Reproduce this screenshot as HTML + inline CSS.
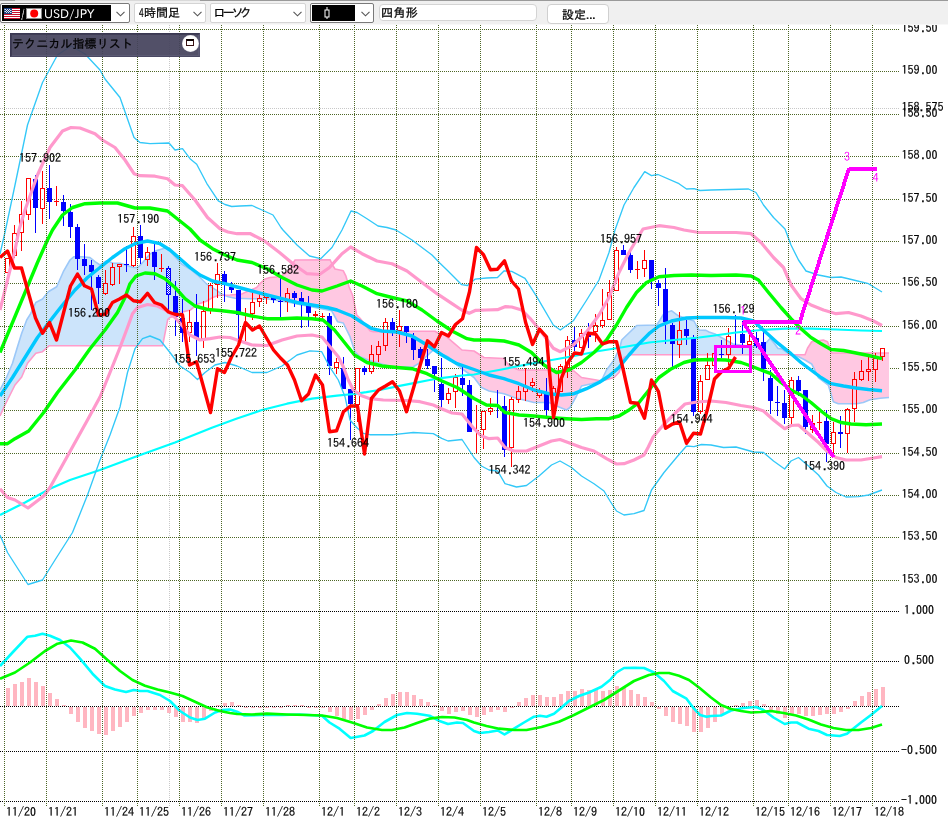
<!DOCTYPE html>
<html lang="ja"><head><meta charset="utf-8"><title>USD/JPY</title>
<style>
html,body{margin:0;padding:0;background:#fff;}
body{width:948px;height:822px;position:relative;overflow:hidden;font-family:"IPAPGothic","IPAGothic","Liberation Sans","Noto Sans CJK JP",sans-serif;font-size:12px;color:#000;}
#chart{position:absolute;left:0;top:0;will-change:transform;}
#tb{position:absolute;left:0;top:0;width:948px;height:24px;background:#f0f0f0;border-bottom:1px solid #f8f8f8;}
#tb .topline{position:absolute;left:0;top:0;height:1px;background:#a0a0a0;}
.cb{position:absolute;top:3px;height:18px;background:#fff;border:1px solid #adadad;border-radius:2px;box-sizing:content-box;}
.cb .tx{position:absolute;left:4px;top:0px;-webkit-text-stroke:0.25px #000;line-height:16px;font-size:12px;white-space:nowrap;letter-spacing:0;will-change:transform;}
.chev{position:absolute;top:7px;width:9px;height:6px;}
#panel{position:absolute;left:10px;top:33px;width:188px;height:22px;background:rgba(69,67,93,0.93);border:1px solid #3a3852;border-right-color:#55536e;border-bottom-color:#4a4863;box-shadow:inset 1px 1px 0 rgba(40,38,62,0.45), inset -1px -1px 0 rgba(110,108,135,0.35);}
#panel .t{position:absolute;left:0.5px;top:0.5px;-webkit-text-stroke:0.25px #000;font-family:"IPAGothic","Liberation Sans","Noto Sans CJK JP",sans-serif;font-size:12px;line-height:16px;color:#000;letter-spacing:0.1px;white-space:nowrap;will-change:transform;}
#panel .btn{position:absolute;left:170.5px;top:0.5px;width:17px;height:17px;border-radius:50%;background:radial-gradient(circle,#fff 0,#fff 60%,rgba(250,248,255,0.75) 78%,rgba(240,238,255,0.25) 92%,rgba(255,255,255,0) 100%);}
#panel .btn i{position:absolute;left:4.5px;top:4.5px;width:6px;height:4px;border:1px solid #3a1212;border-top:2px solid #0a0000;display:block;background:#fff;}
</style></head><body>
<svg id="chart" width="948" height="822" viewBox="0 0 948 822">
<g stroke="#4d6626" stroke-width="1" stroke-dasharray="1 1" shape-rendering="crispEdges">
<line x1="0" y1="29.5" x2="899" y2="29.5"/>
<line x1="0" y1="71.5" x2="899" y2="71.5"/>
<line x1="0" y1="114.5" x2="899" y2="114.5"/>
<line x1="0" y1="156.5" x2="899" y2="156.5"/>
<line x1="0" y1="199.5" x2="899" y2="199.5"/>
<line x1="0" y1="241.5" x2="899" y2="241.5"/>
<line x1="0" y1="283.5" x2="899" y2="283.5"/>
<line x1="0" y1="326.5" x2="899" y2="326.5"/>
<line x1="0" y1="368.5" x2="899" y2="368.5"/>
<line x1="0" y1="410.5" x2="899" y2="410.5"/>
<line x1="0" y1="453.5" x2="899" y2="453.5"/>
<line x1="0" y1="495.5" x2="899" y2="495.5"/>
<line x1="0" y1="537.5" x2="899" y2="537.5"/>
<line x1="0" y1="580.5" x2="899" y2="580.5"/>
</g>
<line x1="0" y1="108.5" x2="899" y2="108.5" stroke="#c8c8c8" stroke-width="1" stroke-dasharray="1 1" shape-rendering="crispEdges"/>
<line x1="169.5" y1="25" x2="169.5" y2="806" stroke="#c8c8c8" stroke-width="1" stroke-dasharray="1 1" shape-rendering="crispEdges"/>
<g stroke="#000" stroke-width="1" stroke-dasharray="1 1" shape-rendering="crispEdges">
<line x1="0" y1="611.5" x2="899" y2="611.5"/>
<line x1="0" y1="661.5" x2="899" y2="661.5"/>
<line x1="0" y1="706.5" x2="899" y2="706.5"/>
<line x1="0" y1="751.5" x2="899" y2="751.5"/>
<line x1="0" y1="801.5" x2="899" y2="801.5"/>
</g>
<polygon points="0,390 0.5,389.03 1,388.06 1.5,387.09 2,386.119 2.5,385.149 3,384.179 3.5,383.209 4,382.239 4.5,381.269 5,380.299 5.5,379.328 6,378.358 6.5,377.388 7,376.291 7.5,375.11 8,373.929 8.5,372.748 9,371.567 9.5,370.386 10,369.205 10.5,368.024 11,366.843 11.5,365.662 12,364.481 12.5,363.3 13,361.64 13.5,359.98 14,358.32 14.5,356.66 15,355 15.5,353.34 16,351.68 16.5,350.02 17,348.36 17.5,346.7 18,345.105 18.5,343.51 19,341.914 19.5,340.319 20,338.724 20.5,337.129 21,335.533 21.5,333.938 22,332.502 22.5,331.172 23,329.842 23.5,328.512 24,327.182 24.5,325.852 25,324.522 25.5,323.192 26,321.862 26.5,320.532 27,319.51 27.5,318.693 28,317.876 28.5,317.059 29,316.241 29.5,315.424 30,314.607 30.5,313.79 31,312.868 31.5,311.788 32,310.708 32.5,309.628 33,308.548 33.5,307.468 34,306.388 34.5,305.308 35,304.228 35.5,303.148 36,302.396 36.5,302.134 37,301.873 37.5,301.612 38,301.351 38.5,301.09 39,300.828 39.5,300.567 40,300.306 40.5,300.045 41,299.784 41.5,299.522 42,299.261 42.5,299 43,298.371 43.5,297.741 44,297.112 44.5,296.483 45,295.853 45.5,295.224 46,294.595 46.5,293.966 47,293.336 47.5,292.707 48,292.078 48.5,291.581 49,291.283 49.5,290.986 50,290.688 50.5,290.39 51,290.093 51.5,289.795 52,289.498 52.5,289.2 53,288.902 53.5,288.605 54,288.307 54.5,288.01 55,287.712 55.5,287.414 56,287.117 56.5,286.819 57,286.018 57.5,284.882 58,283.745 58.5,282.609 59,281.473 59.5,280.336 60,279.2 60.5,278.064 61,276.927 61.5,275.791 62,274.655 62.5,273.518 63,272.382 63.5,271.351 64,270.478 64.5,269.604 65,268.731 65.5,267.858 66,266.985 66.5,266.112 67,265.239 67.5,264.366 68,263.493 68.5,262.619 69,261.746 69.5,260.873 70,260 70.5,259.587 71,259.175 71.5,258.762 72,258.35 72.5,257.938 73,257.525 73.5,257.113 74,256.7 74.5,256.7 75,256.7 75.5,256.7 76,256.7 76.5,256.7 77,256.7 77.5,256.7 78,256.7 78.5,256.7 79,256.7 79.5,256.7 80,256.7 80.5,256.7 81,256.7 81.5,256.7 82,256.729 82.5,256.777 83,256.825 83.5,256.873 84,256.922 84.5,256.97 85,257.018 85.5,257.066 86,257.114 86.5,257.163 87,257.211 87.5,257.259 88,257.307 88.5,257.355 89,257.404 89.5,257.452 90,257.5 90.5,257.92 91,258.34 91.5,258.76 92,259.18 92.5,259.6 93,260.02 93.5,260.44 94,260.86 94.5,261.28 95,261.7 95.5,262.03 96,262.36 96.5,262.69 97,263.02 97.5,263.35 98,263.68 98.5,264.01 99,264.34 99.5,264.67 100,265 100.5,264.687 101,264.373 101.5,264.06 102,263.746 102.5,263.433 103,263.119 103.5,262.806 104,262.493 104.5,262.179 105,261.866 105.5,261.552 106,261.239 106.5,260.925 107,260.914 107.5,261.103 108,261.292 108.5,261.482 109,261.671 109.5,261.861 110,262.05 110.5,262.239 111,262.429 111.5,262.618 112,262.808 112.5,262.997 113,263.186 113.5,263.3 114,263.3 114.5,263.3 115,263.3 115.5,263.3 116,263.3 116.5,263.3 117,263.3 117.5,263.3 118,263.3 118.5,263.3 119,263.3 119.5,263.3 120,263.3 120.5,263.458 121,263.616 121.5,263.774 122,263.932 122.5,264.089 123,264.247 123.5,264.405 124,264.563 124.5,264.721 125,264.879 125.5,265.037 126,265.195 126.5,265.353 127,265.511 127.5,265.668 128,265.826 128.5,265.984 129,266.142 129.5,266.3 130,266.458 130.5,266.616 131,266.774 131.5,266.932 132,267.089 132.5,267.247 133,267.405 133.5,267.5 134,267.5 134.5,267.5 135,267.5 135.5,267.5 136,267.5 136.5,267.5 137,267.5 137.5,267.5 138,267.5 138.5,266.953 139,266.406 139.5,265.858 140,265.311 140.5,264.764 141,264.217 141.5,263.67 142,263.123 142.5,262.575 143,262.028 143.5,261.47 144,260.896 144.5,260.321 145,259.746 145.5,259.172 146,258.597 146.5,258.022 147,257.448 147.5,256.873 148,256.299 148.5,255.724 149,255.149 149.5,254.575 150,254 150.5,253.743 151,253.485 151.5,253.228 152,252.971 152.5,252.713 153,252.456 153.5,252.199 154,251.941 154.5,251.684 155,251.426 155.5,251.169 156,250.912 156.5,250.654 157,250.443 157.5,250.299 158,250.155 158.5,250.011 159,249.868 159.5,249.724 160,249.58 160.5,249.437 161,249.293 161.5,249.149 162,249.006 162.5,248.862 163,248.718 163.5,248.575 164,248.431 164.5,248.287 165,248.144 165.5,248 166,248.333 166.5,248.667 167,249 167.5,249.333 168,249.667 168.5,250 169,250.333 169.5,250.667 170,251 170.5,251.57 171,252.14 171.5,252.711 172,253.281 172.5,253.851 173,254.421 173.5,254.991 174,255.561 174.5,256.132 175,256.702 175.5,257.272 176,257.831 176.5,258.381 177,258.932 177.5,259.483 178,260.034 178.5,260.585 179,261.136 179.5,261.686 180,262.237 180.5,262.788 181,263.339 181.5,263.89 182,264.239 182.5,264.538 183,264.837 183.5,265.136 184,265.434 184.5,265.733 185,266.032 185.5,266.331 186,266.63 186.5,266.929 187,267.228 187.5,267.526 188,267.825 188.5,268.124 189,268.423 189.5,268.722 190,269.021 190.5,269.359 191,269.756 191.5,270.153 192,270.551 192.5,270.948 193,271.345 193.5,271.742 194,272.14 194.5,272.537 195,272.934 195.5,273.332 196,273.729 196.5,274.126 197,274.523 197.5,274.921 198,275.4 198.5,275.9 199,276.4 199.5,276.9 200,277.4 200.5,277.9 201,278.4 201.5,278.9 202,279.4 202.5,279.9 203,280.4 203.5,280.9 204,281.4 204.5,281.9 205,282.4 205.5,282.9 206,283.4 206.5,283.865 207,284.188 207.5,284.512 208,284.835 208.5,285.159 209,285.482 209.5,285.806 210,286.129 210.5,286.453 211,286.776 211.5,287.1 212,287.424 212.5,287.747 213,288.071 213.5,288.394 214,288.718 214.5,289.041 215,289.365 215.5,289.688 216,290.012 216.5,290.335 217,290.682 217.5,291.035 218,291.388 218.5,291.741 219,292.094 219.5,292.447 220,292.8 220.5,293.153 221,293.506 221.5,293.859 222,294.123 222.5,294.327 223,294.532 223.5,294.736 224,294.941 224.5,295.145 225,295.35 225,295.208 224.5,295.229 224,295.25 223.5,295.271 223,295.292 222.5,295.312 222,295.333 221.5,295.354 221,295.375 220.5,295.396 220,295.417 219.5,295.438 219,295.458 218.5,295.479 218,295.5 217.5,295.69 217,295.879 216.5,296.069 216,296.259 215.5,296.448 215,296.638 214.5,296.828 214,297.017 213.5,297.207 213,297.397 212.5,297.586 212,297.824 211.5,298.134 211,298.445 210.5,298.755 210,299.066 209.5,299.376 209,299.686 208.5,299.997 208,300.307 207.5,300.617 207,300.928 206.5,301.238 206,301.432 205.5,301.597 205,301.761 204.5,301.926 204,302.091 203.5,302.256 203,302.42 202.5,302.585 202,302.75 201.5,302.915 201,303.08 200.5,303.244 200,303.409 199.5,303.574 199,303.739 198.5,303.903 198,304.068 197.5,304.279 197,304.677 196.5,305.074 196,305.471 195.5,305.868 195,306.266 194.5,306.663 194,307.06 193.5,307.458 193,307.855 192.5,308.252 192,308.649 191.5,309.047 191,309.444 190.5,309.841 190,310.079 189.5,310.211 189,310.344 188.5,310.476 188,310.608 187.5,310.74 187,310.872 186.5,311.005 186,311.137 185.5,311.269 185,311.401 184.5,311.533 184,311.666 183.5,311.798 183,311.93 182.5,312.062 182,312.194 181.5,312.356 181,312.636 180.5,312.917 180,313.197 179.5,313.477 179,313.758 178.5,314.038 178,314.318 177.5,314.598 177,314.879 176.5,315.159 176,315.439 175.5,315.72 175,316 174.5,316.14 174,316.28 173.5,316.42 173,316.56 172.5,316.7 172,316.84 171.5,316.98 171,317.12 170.5,317.26 170,317.4 169.5,317.878 169,318.357 168.5,318.835 168,319.313 167.5,320.627 167,323.196 166.5,325.765 166,328.333 165.5,330.902 165,333.471 164.5,336.039 164,338.608 163.5,341.176 163,343.745 162.5,345.8 162,345.8 161.5,345.8 161,345.8 160.5,345.8 160,345.8 159.5,345.8 159,345.8 158.5,345.8 158,345.8 157.5,345.8 157,345.8 156.5,345.8 156,345.8 155.5,345.8 155,345.8 154.5,345.8 154,345.8 153.5,345.8 153,345.8 152.5,345.8 152,345.8 151.5,345.8 151,345.8 150.5,345.8 150,345.8 149.5,345.8 149,345.8 148.5,345.8 148,345.8 147.5,345.8 147,345.8 146.5,345.8 146,345.8 145.5,345.8 145,345.8 144.5,345.8 144,345.8 143.5,345.8 143,345.8 142.5,345.8 142,345.8 141.5,345.8 141,345.8 140.5,345.8 140,345.8 139.5,345.8 139,345.8 138.5,345.8 138,345.8 137.5,345.8 137,345.8 136.5,345.8 136,345.8 135.5,345.8 135,345.8 134.5,345.8 134,345.8 133.5,345.8 133,345.8 132.5,345.8 132,345.8 131.5,345.8 131,345.8 130.5,345.8 130,345.8 129.5,345.8 129,345.8 128.5,345.8 128,345.8 127.5,345.8 127,345.8 126.5,345.8 126,345.8 125.5,345.8 125,345.8 124.5,345.8 124,345.8 123.5,345.8 123,345.8 122.5,345.8 122,345.8 121.5,345.8 121,345.8 120.5,345.8 120,345.8 119.5,345.8 119,345.8 118.5,345.8 118,345.8 117.5,345.8 117,345.8 116.5,345.8 116,345.8 115.5,345.8 115,345.8 114.5,345.8 114,345.8 113.5,345.8 113,345.8 112.5,345.8 112,345.8 111.5,345.8 111,345.8 110.5,345.8 110,345.8 109.5,345.8 109,345.8 108.5,345.8 108,345.8 107.5,345.8 107,345.8 106.5,345.8 106,345.8 105.5,345.8 105,345.8 104.5,345.8 104,345.8 103.5,345.8 103,345.8 102.5,345.8 102,345.8 101.5,345.8 101,345.8 100.5,345.8 100,345.8 99.5,345.8 99,345.8 98.5,345.8 98,345.8 97.5,345.8 97,345.8 96.5,345.8 96,345.8 95.5,345.8 95,345.8 94.5,345.8 94,345.8 93.5,345.8 93,345.8 92.5,345.8 92,345.8 91.5,345.8 91,345.8 90.5,345.8 90,345.8 89.5,345.8 89,345.8 88.5,345.8 88,345.8 87.5,345.8 87,345.8 86.5,345.8 86,345.8 85.5,345.8 85,345.8 84.5,345.8 84,345.8 83.5,345.8 83,345.8 82.5,345.8 82,345.8 81.5,345.8 81,345.8 80.5,345.8 80,345.8 79.5,345.8 79,345.8 78.5,345.8 78,345.8 77.5,345.8 77,345.8 76.5,345.8 76,345.8 75.5,345.8 75,345.8 74.5,345.8 74,345.8 73.5,345.8 73,345.8 72.5,345.8 72,345.8 71.5,345.8 71,345.8 70.5,345.8 70,345.8 69.5,345.8 69,345.8 68.5,345.8 68,345.8 67.5,345.8 67,345.8 66.5,345.8 66,345.8 65.5,345.8 65,345.8 64.5,345.8 64,345.8 63.5,345.8 63,345.8 62.5,345.8 62,345.8 61.5,345.8 61,345.8 60.5,345.8 60,345.8 59.5,345.8 59,345.8 58.5,345.8 58,345.8 57.5,345.8 57,345.8 56.5,345.8 56,345.8 55.5,345.8 55,345.8 54.5,345.8 54,345.8 53.5,345.8 53,345.8 52.5,345.8 52,345.8 51.5,345.8 51,345.8 50.5,345.8 50,345.8 49.5,345.8 49,345.8 48.5,346.254 48,346.708 47.5,347.162 47,347.615 46.5,348.069 46,348.523 45.5,348.977 45,349.431 44.5,349.885 44,350.338 43.5,350.792 43,351.246 42.5,351.7 42,351.819 41.5,351.939 41,352.058 40.5,352.178 40,352.297 39.5,352.416 39,352.536 38.5,352.655 38,352.775 37.5,352.894 37,353.013 36.5,353.133 36,353.252 35.5,353.661 35,354.264 34.5,354.866 34,355.469 33.5,356.071 33,356.673 32.5,357.276 32,357.878 31.5,358.481 31,359.083 30.5,359.686 30,360.288 29.5,360.89 29,361.493 28.5,362.095 28,362.698 27.5,363.3 27,364.481 26.5,365.662 26,366.843 25.5,368.024 25,369.205 24.5,370.386 24,371.567 23.5,372.748 23,373.929 22.5,375.11 22,376.291 21.5,377.239 21,377.836 20.5,378.433 20,379.03 19.5,379.627 19,380.224 18.5,380.821 18,381.418 17.5,382.015 17,382.612 16.5,383.209 16,383.806 15.5,384.403 15,385 14.5,386 14,387 13.5,388 13,389 12.5,390 12,391 11.5,392 11,393 10.5,394 10,395 9.5,396 9,397 8.5,398 8,399 7.5,400 7,401 6.5,402 6,403 5.5,404 5,405 4.5,406.1 4,407.2 3.5,408.3 3,409.4 2.5,410.5 2,411.6 1.5,412.7 1,413.8 0.5,414.9 0,416" fill="#cce4fb" stroke="none"/>
<polygon points="225,295.35 225.5,295.555 226,295.759 226.5,295.964 227,296.168 227.5,296.373 228,296.577 228.5,296.748 229,296.867 229.5,296.987 230,297.106 230.5,297.225 231,297.345 231.5,297.464 232,297.584 232.5,297.703 233,297.822 233.5,297.942 234,298.061 234.5,298.181 235,298.3 235.5,298.313 236,298.327 236.5,298.34 237,298.353 237.5,298.367 238,298.38 238.5,298.393 239,298.407 239.5,298.42 240,298.433 240.5,298.447 241,298.46 241.5,298.473 242,298.487 242.5,298.5 243,298.513 243.5,298.527 244,298.54 244.5,298.553 245,298.567 245.5,298.58 246,298.593 246.5,298.607 247,298.62 247.5,298.633 248,298.647 248.5,298.66 249,298.673 249.5,298.687 250,298.7 250.5,298.7 251,298.7 251.5,298.7 252,298.7 252.5,298.7 253,298.7 253.5,298.7 254,298.7 254.5,298.7 255,298.7 255.5,298.7 256,298.7 256.5,298.7 257,298.7 257.5,298.7 258,298.7 258.5,298.7 259,298.7 259.5,298.7 260,298.7 260.5,298.7 261,298.7 261.5,298.7 262,298.7 262.5,298.7 263,298.7 263.5,298.7 264,298.7 264.5,298.7 265,298.7 265.5,298.7 266,298.7 266.5,298.7 267,298.749 267.5,298.83 268,298.912 268.5,298.994 269,299.075 269.5,299.157 270,299.238 270.5,299.32 271,299.401 271.5,299.483 272,299.564 272.5,299.646 273,299.727 273.5,299.809 274,299.891 274.5,299.972 275,300.054 275.5,300.135 276,300.217 276.5,300.298 277,300.38 277.5,300.461 278,300.543 278.5,300.624 279,300.706 279.5,300.788 280,300.869 280.5,300.951 281,301.032 281.5,301.114 282,301.195 282.5,301.277 283,301.358 283.5,301.44 284,301.521 284.5,301.603 285,301.685 285.5,301.766 286,301.848 286.5,301.929 287,302.011 287.5,302.092 288,302.174 288.5,302.255 289,302.337 289.5,302.418 290,302.5 290.5,302.604 291,302.708 291.5,302.812 292,302.917 292.5,303.021 293,303.125 293.5,303.229 294,303.333 294.5,303.438 295,303.542 295.5,303.646 296,303.75 296.5,303.854 297,303.958 297.5,304.062 298,304.167 298.5,304.271 299,304.375 299.5,304.479 300,304.583 300.5,304.688 301,304.792 301.5,304.896 302,305 302.5,305.098 303,305.195 303.5,305.293 304,305.391 304.5,305.488 305,305.586 305.5,305.684 306,305.781 306.5,305.879 307,305.976 307.5,306.074 308,306.172 308.5,306.269 309,306.367 309.5,306.465 310,306.562 310.5,306.66 311,306.758 311.5,306.855 312,306.953 312.5,307.051 313,307.148 313.5,307.246 314,307.343 314.5,307.441 315,307.539 315.5,307.636 316,307.734 316.5,307.832 317,307.929 317.5,308.027 318,308.125 318.5,308.222 319,308.32 319.5,308.418 320,308.515 320.5,308.613 321,308.71 321.5,308.808 322,308.906 322.5,309.003 323,309.101 323.5,309.199 324,309.296 324.5,309.394 325,309.492 325.5,309.589 326,309.687 326.5,309.785 327,309.882 327.5,309.98 328,310.077 328.5,310.175 329,310.273 329.5,310.37 330,310.468 330.5,310.566 331,310.663 331.5,310.761 332,311.348 332.5,312.261 333,313.174 333.5,314.087 334,315 334.5,315.957 335,316.914 335.5,317.871 336,318.829 336.5,319.786 337,320.743 337.5,321.7 338,321.812 338.5,321.924 339,322.036 339.5,322.148 340,322.26 340.5,322.372 341,322.484 341.5,322.597 342,322.709 342.5,322.821 343,322.933 343.5,323.412 344,324.441 344.5,325.471 345,326.5 345.5,327.529 346,328.559 346.5,329.588 347,330.609 347.5,331.624 348,332.639 348.5,333.655 349,334.67 349.5,335.685 350,336.7 350.5,338.215 351,339.73 351.5,341.245 352,342.761 352.5,344.276 353,345.791 353.5,347.288 354,348.759 354.5,350.229 355,351.7 355.5,352.2 356,352.7 356.5,353.2 357,353.7 357.5,354.2 358,354.7 358.5,355.2 359,355.7 359.5,356.2 360,356.7 360.5,356.899 361,357.098 361.5,357.296 362,357.495 362.5,357.694 363,357.893 363.5,358.092 364,358.29 364.5,358.489 365,358.688 365.5,358.887 366,359.086 366.5,359.284 367,359.483 367.5,359.682 368,359.881 368.5,360.06 369,360.21 369.5,360.36 370,360.51 370.5,360.66 371,360.81 371.5,360.96 372,361.11 372.5,361.26 373,361.41 373.5,361.56 374,361.71 374.5,361.86 375,362.01 375.5,362.16 376,362.31 376.5,362.46 377,362.61 377.5,362.76 378,362.91 378.5,363.06 379,363.21 379.5,363.36 380,363.51 380.5,363.66 381,363.81 381.5,363.96 382,364.11 382.5,364.26 383,364.41 383.5,364.56 384,364.71 384.5,364.86 385,365.01 385.5,365.16 386,365.31 386.5,365.46 387,365.61 387.5,365.76 388,365.91 388.5,366.06 389,366.21 389.5,366.36 390,366.51 390.5,366.66 391,366.81 391.5,366.96 392,367.11 392.5,367.26 393,367.41 393.5,367.492 394,367.472 394.5,367.452 395,367.432 395.5,367.412 396,367.392 396.5,367.372 397,367.352 397.5,367.332 398,367.312 398.5,367.292 399,367.272 399.5,367.252 400,367.232 400.5,367.212 401,367.192 401.5,367.172 402,367.152 402.5,367.132 403,367.112 403.5,367.092 404,367.072 404.5,367.052 405,367.032 405.5,367.012 406,366.992 406.5,366.972 407,366.952 407.5,366.932 408,366.912 408.5,366.892 409,366.872 409.5,366.852 410,366.832 410.5,366.812 411,366.792 411.5,366.772 412,366.752 412.5,366.732 413,366.712 413.5,366.581 414,366.282 414.5,365.984 415,365.686 415.5,365.388 416,365.089 416.5,364.791 417,364.493 417.5,364.195 418,363.896 418.5,363.598 419,363.3 419.5,362.839 420,362.378 420.5,361.917 421,361.456 421.5,360.994 422,360.533 422.5,360.072 423,359.611 423.5,359.15 424,358.689 424.5,358.228 425,357.767 425.5,357.306 426,356.844 426.5,356.383 427,355.922 427.5,355.461 428,355 428.5,354.521 429,354.043 429.5,353.564 430,353.086 430.5,352.607 431,352.129 431.5,351.65 432,351.171 432.5,350.693 433,350.214 433.5,349.736 434,349.257 434.5,348.779 435,348.3 435.5,348.8 436,349.3 436.5,349.8 437,350.3 437.5,350.8 438,351.3 438.5,351.8 439,352.3 439.5,352.8 440,353.3 440.5,353.512 441,353.725 441.5,353.938 442,354.15 442.5,354.363 443,354.575 443.5,354.788 444,355 444.5,355.212 445,355.425 445.5,355.637 446,355.85 446.5,356.062 447,356.275 447.5,356.488 448,356.7 448.5,357.161 449,357.622 449.5,358.083 450,358.544 450.5,359.006 451,359.467 451.5,359.928 452,360.389 452.5,360.85 453,361.311 453.5,361.772 454,362.233 454.5,362.694 455,363.156 455.5,363.617 456,364.078 456.5,364.539 457,365 457.5,365.368 458,365.735 458.5,366.103 459,366.471 459.5,366.838 460,367.206 460.5,367.574 461,367.941 461.5,368.309 462,368.676 462.5,369.044 463,369.412 463.5,369.779 464,370.147 464.5,370.515 465,370.882 465.5,371.25 466,371.618 466.5,371.985 467,372.353 467.5,372.721 468,373.088 468.5,373.456 469,373.824 469.5,374.191 470,374.559 470.5,374.926 471,375.294 471.5,375.662 472,376.029 472.5,376.397 473,376.765 473.5,377.132 474,377.5 474.5,378.167 475,378.833 475.5,379.5 476,380.167 476.5,380.833 477,381.5 477.5,382.167 478,382.833 478.5,383.5 479,384.167 479.5,384.833 480,385.5 480.5,386.167 481,386.833 481.5,387.5 482,387.733 482.5,387.967 483,388.2 483.5,388.433 484,388.667 484.5,388.9 485,389.133 485.5,389.367 486,389.6 486.5,389.833 487,390.067 487.5,390.3 488,390.533 488.5,390.767 489,391 489.5,391.09 490,391.18 490.5,391.27 491,391.36 491.5,391.45 492,391.54 492.5,391.63 493,391.72 493.5,391.81 494,391.9 494.5,391.99 495,392.08 495.5,392.17 496,392.26 496.5,392.35 497,392.44 497.5,392.53 498,392.62 498.5,392.71 499,392.8 499.5,392.89 500,392.98 500.5,393.07 501,393.16 501.5,393.25 502,393.34 502.5,393.43 503,393.52 503.5,393.61 504,393.7 504.5,393.89 505,394.08 505.5,394.27 506,394.46 506.5,394.65 507,394.84 507.5,395.03 508,395.22 508.5,395.41 509,395.6 509.5,395.79 510,395.98 510.5,396.17 511,396.36 511.5,396.55 512,396.74 512.5,396.93 513,397.12 513.5,397.31 514,397.5 514.5,397.625 515,397.75 515.5,397.875 516,398 516.5,398.125 517,398.25 517.5,398.375 518,398.5 518.5,398.625 519,398.75 519.5,398.875 520,399 520.5,399.125 521,399.25 521.5,399.375 522,399.5 522.5,399.625 523,399.75 523.5,399.875 524,400 524.5,400.125 525,400.25 525.5,400.375 526,400.5 526.5,400.625 527,400.75 527.5,400.875 528,401 528.5,401.125 529,401.25 529.5,401.375 530,401.5 530.5,401.625 531,401.75 531.5,401.875 532,402 532.5,402.125 533,402.25 533.5,402.375 534,402.5 534.5,402.5 535,402.5 535.5,402.5 536,402.5 536.5,402.5 537,402.5 537.5,402.5 538,402.5 538.5,402.5 539,402.5 539.5,402.5 540,402.5 540.5,402.5 541,402.5 541.5,402.5 542,402.5 542.5,402.5 543,402.5 543.5,402.5 544,402.5 544.5,402.5 545,402.5 545.5,402.5 546,402.5 546.5,402.5 547,402.5 547.5,402.5 548,402.5 548.5,402.5 549,402.5 549.5,402.733 550,402.967 550.5,403.2 551,403.433 551.5,403.667 552,403.9 552.5,404.133 553,404.367 553.5,404.6 554,404.833 554.5,405.067 555,405.3 555.5,405.533 556,405.767 556.5,406 557,406.2 557.5,406.4 558,406.6 558.5,406.8 559,407 559.5,407.2 560,407.4 560.5,407.6 561,407.8 561.5,408 562,408.2 562.5,408.4 563,408.6 563.5,408.8 564,409 564.5,409.2 565,409.4 565.5,409.6 566,409.8 566.5,410 567,409.643 567.5,409.286 568,408.929 568.5,408.571 569,408.214 569.5,407.857 570,407.5 570.5,406.615 571,405.731 571.5,404.846 572,403.962 572.5,403.077 573,402.192 573.5,401.308 574,400.423 574.5,399.538 575,398.654 575.5,397.769 576,396.885 576.5,396 577,395 577.5,394 578,393 578.5,392 579,391 579.5,390 580,389 580.5,388 581,387 581.5,386 582,385.885 582.5,385.77 583,385.655 583.5,385.54 584,385.425 584.5,385.31 585,385.195 585.5,385.08 586,384.965 586.5,384.85 587,384.735 587.5,384.62 588,384.505 588.5,384.39 589,384.275 589.5,384.16 590,384.045 590.5,383.93 591,383.815 591.5,383.7 592,383.54 592.5,383.38 593,383.22 593.5,383.06 594,382.9 594.5,382.74 595,382.58 595.5,382.42 596,382.26 596.5,382.1 597,381.94 597.5,381.78 598,381.62 598.5,381.46 599,381.3 599.5,381.14 600,380.98 600.5,380.82 601,380.66 601,380.9 600.5,380.8 600,380.7 599.5,380.6 599,380.5 598.5,380.4 598,380.3 597.5,380.2 597,380.1 596.5,380 596,379.917 595.5,379.833 595,379.75 594.5,379.667 594,379.583 593.5,379.5 593,379.417 592.5,379.333 592,379.25 591.5,379.167 591,379.083 590.5,379 590,378.917 589.5,378.833 589,378.75 588.5,378.667 588,378.583 587.5,378.5 587,378.417 586.5,378.333 586,378.25 585.5,378.167 585,378.083 584.5,378 584,377.917 583.5,377.833 583,377.75 582.5,377.667 582,377.583 581.5,377.5 581,377.067 580.5,376.633 580,376.2 579.5,375.767 579,375.333 578.5,374.9 578,374.467 577.5,374.033 577,373.6 576.5,373.167 576,372.733 575.5,372.3 575,371.867 574.5,371.433 574,371 573.5,370.98 573,370.96 572.5,370.94 572,370.92 571.5,370.9 571,370.88 570.5,370.86 570,370.84 569.5,370.82 569,370.8 568.5,370.78 568,370.76 567.5,370.74 567,370.72 566.5,370.7 566,370.68 565.5,370.66 565,370.64 564.5,370.62 564,370.6 563.5,370.58 563,370.56 562.5,370.54 562,370.52 561.5,370.5 561,370.48 560.5,370.46 560,370.44 559.5,370.42 559,370.4 558.5,370.38 558,370.36 557.5,370.34 557,370.32 556.5,370.3 556,370.28 555.5,370.26 555,370.24 554.5,370.22 554,370.2 553.5,370.18 553,370.16 552.5,370.14 552,370.12 551.5,370.1 551,370.08 550.5,370.06 550,370.04 549.5,370.02 549,370 548.5,370 548,370 547.5,370 547,370 546.5,370 546,370 545.5,370 545,370 544.5,370 544,370 543.5,370 543,370 542.5,370 542,370 541.5,370 541,370 540.5,370 540,370 539.5,370 539,370 538.5,370 538,370 537.5,370 537,370 536.5,370 536,370 535.5,370 535,370 534.5,370 534,370 533.5,370 533,370 532.5,370 532,370 531.5,370 531,370 530.5,370 530,370 529.5,370 529,370 528.5,370 528,370 527.5,370 527,370 526.5,370 526,370 525.5,370 525,370 524.5,370 524,370 523.5,370 523,370 522.5,370 522,370 521.5,370 521,370 520.5,370 520,370 519.5,370 519,370 518.5,369.8 518,369.6 517.5,369.4 517,369.2 516.5,369 516,368.8 515.5,368.6 515,368.4 514.5,368.2 514,368 513.5,367.8 513,367.6 512.5,367.4 512,367.2 511.5,367 511,366.8 510.5,366.6 510,366.4 509.5,366.2 509,366 508.5,365.25 508,364.5 507.5,363.75 507,363 506.5,362.25 506,361.5 505.5,360.75 505,360 504.5,359.25 504,358.5 503.5,358.475 503,358.45 502.5,358.425 502,358.4 501.5,358.375 501,358.35 500.5,358.325 500,358.3 499.5,358.275 499,358.25 498.5,358.225 498,358.2 497.5,358.175 497,358.15 496.5,358.125 496,358.1 495.5,358.075 495,358.05 494.5,358.025 494,358 493.5,357.975 493,357.95 492.5,357.925 492,357.9 491.5,357.875 491,357.85 490.5,357.825 490,357.8 489.5,357.775 489,357.75 488.5,357.725 488,357.7 487.5,357.675 487,357.65 486.5,357.625 486,357.6 485.5,357.575 485,357.55 484.5,357.525 484,357.5 483.5,357.175 483,356.85 482.5,356.525 482,356.2 481.5,355.875 481,355.55 480.5,355.225 480,354.9 479.5,354.575 479,354.25 478.5,353.925 478,353.6 477.5,353.275 477,352.95 476.5,352.625 476,352.3 475.5,351.975 475,351.65 474.5,351.325 474,351 473.5,350.958 473,350.917 472.5,350.875 472,350.833 471.5,350.792 471,350.75 470.5,350.708 470,350.667 469.5,350.625 469,350.583 468.5,350.542 468,350.5 467.5,350.458 467,350.417 466.5,350.375 466,350.333 465.5,350.292 465,350.25 464.5,350.208 464,350.167 463.5,350.125 463,350.083 462.5,350.042 462,350 461.5,349.58 461,349.16 460.5,348.74 460,348.32 459.5,347.9 459,347.48 458.5,347.06 458,346.64 457.5,346.22 457,345.8 456.5,345.38 456,344.96 455.5,344.54 455,344.12 454.5,343.7 454,343.265 453.5,342.83 453,342.395 452.5,341.96 452,341.525 451.5,341.09 451,340.655 450.5,340.22 450,339.785 449.5,339.35 449,338.915 448.5,338.48 448,338.045 447.5,337.61 447,337.175 446.5,336.74 446,336.305 445.5,335.87 445,335.435 444.5,335 444,334.863 443.5,334.726 443,334.589 442.5,334.452 442,334.315 441.5,334.177 441,334.04 440.5,333.903 440,333.766 439.5,333.629 439,333.492 438.5,333.355 438,333.118 437.5,332.815 437,332.512 436.5,332.209 436,331.906 435.5,331.603 435,331.3 434.5,331.3 434,331.3 433.5,331.3 433,331.3 432.5,331.3 432,331.3 431.5,331.3 431,331.3 430.5,331.3 430,331.3 429.5,331.3 429,331.3 428.5,331.3 428,331.3 427.5,331.3 427,331.3 426.5,331.3 426,331.3 425.5,331.3 425,331.3 424.5,331.3 424,331.3 423.5,331.3 423,331.3 422.5,331.3 422,331.3 421.5,331.3 421,331.3 420.5,331.3 420,331.3 419.5,331.3 419,331.3 418.5,331.3 418,331.3 417.5,331.3 417,331.3 416.5,331.3 416,331.3 415.5,331.3 415,331.3 414.5,331.3 414,331.3 413.5,331.3 413,331.3 412.5,331.3 412,331.3 411.5,331.3 411,331.3 410.5,331.3 410,331.3 409.5,331.305 409,331.311 408.5,331.316 408,331.322 407.5,331.327 407,331.333 406.5,331.338 406,331.344 405.5,331.349 405,331.354 404.5,331.36 404,331.365 403.5,331.371 403,331.376 402.5,331.382 402,331.387 401.5,331.393 401,331.398 400.5,331.404 400,331.409 399.5,331.414 399,331.42 398.5,331.425 398,331.431 397.5,331.436 397,331.442 396.5,331.447 396,331.453 395.5,331.458 395,331.463 394.5,331.469 394,331.474 393.5,331.48 393,331.485 392.5,331.491 392,331.496 391.5,331.502 391,331.507 390.5,331.513 390,331.518 389.5,331.523 389,331.529 388.5,331.534 388,331.54 387.5,331.545 387,331.551 386.5,331.556 386,331.562 385.5,331.567 385,331.572 384.5,331.578 384,331.583 383.5,331.589 383,331.594 382.5,331.6 382,331.605 381.5,331.611 381,331.616 380.5,331.622 380,331.627 379.5,331.632 379,331.638 378.5,331.643 378,331.649 377.5,331.654 377,331.66 376.5,331.665 376,331.671 375.5,331.676 375,331.681 374.5,331.687 374,331.692 373.5,331.698 373,331.618 372.5,331.482 372,331.345 371.5,331.209 371,331.073 370.5,330.936 370,330.8 369.5,330.175 369,329.55 368.5,328.925 368,328.3 367.5,327.675 367,327.05 366.5,326.425 366,325.8 365.5,325.175 365,324.55 364.5,323.925 364,323.3 363.5,322.675 363,322.05 362.5,321.425 362,320.8 361.5,320.175 361,319.55 360.5,318.925 360,318.3 359.5,317.8 359,317.3 358.5,316.8 358,316.3 357.5,315.8 357,315.3 356.5,314.024 356,311.582 355.5,309.141 355,306.7 354.5,304.36 354,302.02 353.5,299.68 353,297.34 352.5,295 352,293.814 351.5,292.629 351,291.443 350.5,290.257 350,289.071 349.5,287.886 349,286.7 348.5,284.997 348,283.294 347.5,281.591 347,279.887 346.5,278.184 346,276.481 345.5,275.2 345,274.2 344.5,273.2 344,272.2 343.5,271.2 343,270.735 342.5,270.627 342,270.518 341.5,270.41 341,270.301 340.5,270.193 340,270.084 339.5,269.976 339,269.867 338.5,269.759 338,269.651 337.5,269.542 337,269.434 336.5,269.325 336,269.217 335.5,269.108 335,269 334.5,268.2 334,267.4 333.5,266.6 333,265.8 332.5,265 332,263.94 331.5,262.88 331,261.82 330.5,260.76 330,259.7 329.5,259.704 329,259.709 328.5,259.713 328,259.717 327.5,259.721 327,259.726 326.5,259.73 326,259.734 325.5,259.739 325,259.743 324.5,259.747 324,259.751 323.5,259.756 323,259.76 322.5,259.764 322,259.769 321.5,259.773 321,259.777 320.5,259.781 320,259.786 319.5,259.79 319,259.794 318.5,259.799 318,259.803 317.5,259.807 317,259.811 316.5,259.816 316,259.82 315.5,259.824 315,259.829 314.5,259.833 314,259.837 313.5,259.841 313,259.846 312.5,259.85 312,259.854 311.5,259.859 311,259.863 310.5,259.867 310,259.871 309.5,259.876 309,259.88 308.5,259.884 308,259.889 307.5,259.893 307,259.897 306.5,259.901 306,259.906 305.5,259.91 305,259.914 304.5,259.919 304,259.923 303.5,259.927 303,259.931 302.5,259.936 302,259.94 301.5,259.944 301,259.949 300.5,259.953 300,259.957 299.5,259.961 299,259.966 298.5,259.97 298,259.974 297.5,259.979 297,259.983 296.5,259.987 296,259.991 295.5,259.996 295,260 294.5,260.857 294,261.714 293.5,262.571 293,263.429 292.5,264.286 292,265.143 291.5,266 291,266.857 290.5,267.714 290,268.571 289.5,269.429 289,270.286 288.5,271.143 288,272 287.5,272.294 287,272.587 286.5,272.881 286,273.175 285.5,273.469 285,273.762 284.5,274.056 284,274.35 283.5,274.644 283,274.938 282.5,275.231 282,275.525 281.5,275.819 281,276.113 280.5,276.406 280,276.7 279.5,276.74 279,276.78 278.5,276.82 278,276.86 277.5,276.9 277,276.94 276.5,276.98 276,277.02 275.5,277.06 275,277.1 274.5,277.14 274,277.18 273.5,277.22 273,277.26 272.5,277.3 272,277.34 271.5,277.38 271,277.42 270.5,277.46 270,277.5 269.5,277.65 269,277.8 268.5,277.95 268,278.1 267.5,278.25 267,278.4 266.5,278.55 266,278.7 265.5,278.85 265,279 264.5,279.47 264,279.94 263.5,280.41 263,280.88 262.5,281.35 262,281.82 261.5,282.29 261,282.76 260.5,283.23 260,283.7 259.5,284.276 259,284.852 258.5,285.427 258,286.003 257.5,286.579 257,287.155 256.5,287.584 256,287.794 255.5,288.004 255,288.214 254.5,288.424 254,288.634 253.5,288.844 253,289.054 252.5,289.264 252,289.474 251.5,289.684 251,289.894 250.5,290.104 250,290.314 249.5,290.524 249,290.734 248.5,290.944 248,291.154 247.5,291.364 247,291.574 246.5,291.792 246,292.022 245.5,292.252 245,292.482 244.5,292.712 244,292.942 243.5,293.172 243,293.402 242.5,293.632 242,293.862 241.5,294.017 241,294.06 240.5,294.103 240,294.145 239.5,294.188 239,294.231 238.5,294.274 238,294.316 237.5,294.359 237,294.402 236.5,294.444 236,294.487 235.5,294.53 235,294.573 234.5,294.615 234,294.658 233.5,294.701 233,294.744 232.5,294.786 232,294.829 231.5,294.872 231,294.915 230.5,294.957 230,295 229.5,295.021 229,295.042 228.5,295.062 228,295.083 227.5,295.104 227,295.125 226.5,295.146 226,295.167 225.5,295.188 225,295.208" fill="#ffc8e2" stroke="none"/>
<polygon points="601,380.66 601.5,380.5 602,379.45 602.5,378.4 603,377.35 603.5,376.3 604,375.25 604.5,374.2 605,373.15 605.5,372.1 606,371.05 606.5,370 607,369.333 607.5,368.667 608,368 608.5,367.333 609,366.667 609.5,366 610,365.333 610.5,364.667 611,364 611.5,363.333 612,362.667 612.5,362 613,361.333 613.5,360.667 614,360 614.5,358.917 615,357.833 615.5,356.75 616,355.667 616.5,354.583 617,353.5 617.5,352.417 618,351.333 618.5,350.25 619,349.167 619.5,348.083 620,347 620.5,344.941 621,342.882 621.5,340.824 622,339.7 622.5,339.2 623,338.7 623.5,338.2 624,337.7 624.5,337.2 625,336.7 625.5,336.221 626,335.743 626.5,335.264 627,334.785 627.5,334.307 628,333.828 628.5,333.35 629,332.871 629.5,332.392 630,331.914 630.5,331.435 631,330.956 631.5,330.478 632,329.999 632.5,329.521 633,329.042 633.5,328.563 634,328.085 634.5,327.606 635,327.127 635.5,326.649 636,326.17 636.5,325.691 637,325.493 637.5,325.48 638,325.467 638.5,325.455 639,325.442 639.5,325.43 640,325.418 640.5,325.405 641,325.392 641.5,325.38 642,325.368 642.5,325.355 643,325.342 643.5,325.33 644,325.317 644.5,325.305 645,325.293 645.5,325.28 646,325.267 646.5,325.255 647,325.243 647.5,325.23 648,325.217 648.5,325.205 649,325.192 649.5,325.18 650,325.168 650.5,325.155 651,325.142 651.5,325.13 652,325.118 652.5,325.105 653,325.092 653.5,325.08 654,325.067 654.5,325.055 655,325.043 655.5,325.03 656,325.017 656.5,325.005 657,324.545 657.5,323.788 658,323.03 658.5,322.273 659,321.515 659.5,320.758 660,320 660.5,319.163 661,318.325 661.5,317.488 662,316.65 662.5,315.812 663,314.975 663.5,314.137 664,313.3 664.5,313.138 665,312.975 665.5,312.813 666,312.651 666.5,312.488 667,312.326 667.5,312.164 668,312.001 668.5,311.839 669,311.677 669.5,311.514 670,311.352 670.5,311.19 671,311.027 671.5,310.865 672,311.027 672.5,311.406 673,311.785 673.5,312.164 674,312.542 674.5,312.921 675,313.3 675.5,313.679 676,314.058 676.5,314.436 677,314.815 677.5,315.194 678,315.573 678.5,315.866 679,316.032 679.5,316.197 680,316.363 680.5,316.529 681,316.694 681.5,316.86 682,317.025 682.5,317.191 683,317.357 683.5,317.522 684,317.688 684.5,317.854 685,318.019 685.5,318.185 686,318.35 686.5,318.516 687,318.682 687.5,318.847 688,319.013 688.5,319.178 689,319.344 689.5,319.51 690,319.675 690.5,319.841 691,320.006 691.5,320.172 692,320.338 692.5,320.503 693,320.669 693.5,320.834 694,321 694.5,322 695,323 695.5,324 696,325 696.5,325.833 697,326.667 697.5,327.5 698,328.333 698.5,329.167 699,330 699.5,330.029 700,330.057 700.5,330.086 701,330.114 701.5,330.143 702,330.171 702.5,330.2 703,330.229 703.5,330.257 704,330.286 704.5,330.314 705,330.343 705.5,330.371 706,330.4 706.5,330.667 707,330.933 707.5,331.2 708,331.467 708.5,331.733 709,332 709.5,332.167 710,332.333 710.5,332.5 711,332.667 711.5,332.833 712,333 712.5,333.167 713,333.333 713.5,333.5 714,333.667 714.5,333.833 715,334 715.5,334.278 716,334.556 716.5,334.833 717,335.111 717.5,335.389 718,335.667 718.5,335.944 719,336.222 719.5,336.5 720,336.778 720.5,337.056 721,337.333 721.5,337.611 722,337.889 722.5,338.167 723,338.444 723.5,338.722 724,339 724.5,339.278 725,339.556 725.5,339.833 726,340.111 726.5,340.389 727,340.667 727.5,340.944 728,341.222 728.5,341.5 729,341.778 729.5,342.056 730,342.333 730.5,342.611 731,342.889 731.5,343.167 732,343.444 732.5,343.722 733,344 733.5,344.065 734,344.13 734.5,344.196 735,344.261 735.5,344.326 736,344.391 736.5,344.457 737,344.522 737.5,344.587 738,344.652 738.5,344.717 739,344.783 739.5,344.848 740,344.913 740.5,344.978 741,345.043 741.5,345.109 742,345.174 742.5,345.239 743,345.304 743.5,345.37 744,345.435 744.5,345.5 745,345.565 745.5,345.63 746,345.696 746.5,345.761 747,345.826 747.5,345.891 748,345.957 748.5,346.022 749,346.087 749.5,346.152 750,346.217 750.5,346.283 751,346.348 751.5,346.413 752,346.478 752.5,346.543 753,346.609 753.5,346.674 754,346.739 754.5,346.804 755,346.87 755.5,346.935 756,347 756.5,346.8 757,346.6 757.5,346.4 758,346.2 758.5,346 759,345.8 759.5,345.6 760,345.4 760.5,345.2 761,345 761.5,344.8 762,344.6 762.5,344.4 763,344.2 763.5,344 764,343.8 764.5,343.6 765,343.4 765.5,343.2 766,343 766.5,342.425 767,341.85 767.5,341.275 768,340.7 768.5,340.125 769,339.55 769.5,338.975 770,338.4 770.5,338.975 771,339.55 771.5,340.125 772,340.7 772.5,341.275 773,341.85 773.5,342.425 774,343 774.5,343.675 775,344.35 775.5,345.025 776,345.7 776.5,346.375 777,347.05 777.5,347.725 778,348.4 778.5,348.475 779,348.55 779.5,348.625 780,348.7 780.5,348.775 781,348.85 781.5,348.925 782,349 782.5,349.344 783,349.688 783.5,350.031 784,350.375 784.5,350.719 785,351.062 785.5,351.406 786,351.75 786.5,352.094 787,352.438 787.5,352.781 788,353.125 788.5,353.469 789,353.812 789.5,354.156 790,354.5 790.5,354.597 791,354.694 791.5,354.791 791.5,354.7 791,354.7 790.5,354.7 790,354.7 789.5,354.7 789,354.7 788.5,354.7 788,354.7 787.5,354.7 787,354.7 786.5,354.7 786,354.7 785.5,354.7 785,354.7 784.5,354.7 784,354.7 783.5,354.7 783,354.7 782.5,354.7 782,354.7 781.5,354.7 781,354.7 780.5,354.7 780,354.7 779.5,354.7 779,354.7 778.5,354.7 778,354.7 777.5,354.7 777,354.7 776.5,354.7 776,354.7 775.5,354.7 775,354.7 774.5,354.7 774,354.7 773.5,354.7 773,354.7 772.5,354.7 772,354.7 771.5,354.7 771,354.7 770.5,354.7 770,354.7 769.5,354.7 769,354.7 768.5,354.7 768,354.7 767.5,354.7 767,354.7 766.5,354.7 766,354.7 765.5,354.7 765,354.7 764.5,354.7 764,354.7 763.5,354.7 763,354.7 762.5,354.7 762,354.7 761.5,354.7 761,354.7 760.5,354.7 760,354.7 759.5,354.7 759,354.7 758.5,354.7 758,354.7 757.5,354.7 757,354.7 756.5,354.7 756,354.7 755.5,354.7 755,354.7 754.5,354.7 754,354.7 753.5,354.7 753,354.7 752.5,354.7 752,354.7 751.5,354.7 751,354.7 750.5,354.7 750,354.7 749.5,354.7 749,354.7 748.5,354.7 748,354.7 747.5,354.7 747,354.7 746.5,354.7 746,354.7 745.5,354.7 745,354.7 744.5,354.7 744,354.7 743.5,354.7 743,354.7 742.5,354.7 742,354.7 741.5,354.7 741,354.7 740.5,354.7 740,354.7 739.5,354.7 739,354.7 738.5,354.7 738,354.7 737.5,354.7 737,354.7 736.5,354.7 736,354.7 735.5,354.7 735,354.7 734.5,354.7 734,354.7 733.5,354.7 733,354.7 732.5,354.7 732,354.7 731.5,354.7 731,354.7 730.5,354.7 730,354.7 729.5,354.7 729,354.7 728.5,354.7 728,354.7 727.5,354.7 727,354.7 726.5,354.7 726,354.7 725.5,354.7 725,354.7 724.5,354.7 724,354.7 723.5,354.7 723,354.7 722.5,354.7 722,354.7 721.5,354.7 721,354.7 720.5,354.7 720,354.7 719.5,354.7 719,354.7 718.5,354.7 718,354.7 717.5,354.7 717,354.7 716.5,354.7 716,354.7 715.5,354.7 715,354.7 714.5,354.7 714,354.7 713.5,354.7 713,354.7 712.5,354.7 712,354.7 711.5,354.7 711,354.7 710.5,354.7 710,354.7 709.5,354.7 709,354.7 708.5,354.7 708,354.7 707.5,354.7 707,354.7 706.5,354.7 706,354.7 705.5,354.7 705,354.7 704.5,354.7 704,354.7 703.5,354.7 703,354.7 702.5,354.7 702,354.7 701.5,354.7 701,354.7 700.5,354.7 700,354.7 699.5,354.7 699,354.7 698.5,354.7 698,354.7 697.5,354.7 697,354.7 696.5,354.7 696,354.7 695.5,354.7 695,354.7 694.5,354.7 694,354.7 693.5,354.7 693,354.7 692.5,354.7 692,354.7 691.5,354.7 691,354.7 690.5,354.7 690,354.7 689.5,354.7 689,354.7 688.5,354.7 688,354.7 687.5,354.7 687,354.7 686.5,354.7 686,354.7 685.5,354.7 685,354.7 684.5,354.7 684,354.7 683.5,354.7 683,354.7 682.5,354.7 682,354.7 681.5,354.7 681,354.7 680.5,354.7 680,354.7 679.5,354.7 679,354.7 678.5,354.7 678,354.7 677.5,354.7 677,354.7 676.5,354.7 676,354.7 675.5,354.7 675,354.7 674.5,354.7 674,354.7 673.5,354.7 673,354.7 672.5,354.7 672,354.7 671.5,354.7 671,354.7 670.5,354.7 670,354.7 669.5,354.7 669,354.7 668.5,354.7 668,354.7 667.5,354.7 667,354.7 666.5,354.7 666,354.7 665.5,354.7 665,354.7 664.5,354.7 664,354.7 663.5,354.7 663,354.7 662.5,354.7 662,354.7 661.5,354.7 661,354.7 660.5,354.7 660,354.7 659.5,354.7 659,354.7 658.5,354.7 658,354.7 657.5,354.7 657,354.7 656.5,354.7 656,354.7 655.5,354.7 655,354.7 654.5,354.7 654,354.7 653.5,354.7 653,354.7 652.5,354.7 652,354.7 651.5,354.7 651,354.7 650.5,354.7 650,354.7 649.5,354.7 649,354.7 648.5,354.7 648,354.7 647.5,354.7 647,354.7 646.5,354.7 646,354.7 645.5,354.7 645,354.7 644.5,354.7 644,354.7 643.5,354.7 643,354.7 642.5,354.7 642,354.7 641.5,354.7 641,354.7 640.5,354.7 640,354.7 639.5,354.7 639,354.7 638.5,354.7 638,354.7 637.5,354.7 637,354.7 636.5,354.7 636,354.7 635.5,354.7 635,354.7 634.5,354.7 634,354.7 633.5,354.7 633,354.7 632.5,354.7 632,354.7 631.5,354.7 631,354.7 630.5,354.7 630,354.7 629.5,354.933 629,355.167 628.5,355.4 628,355.633 627.5,355.867 627,356.1 626.5,356.333 626,356.567 625.5,356.8 625,357.033 624.5,357.267 624,357.5 623.5,359 623,360.5 622.5,362 622,363.5 621.5,365 621,366.5 620.5,368 620,369.5 619.5,371 619,372.5 618.5,373 618,373.5 617.5,374 617,374.5 616.5,375 616,375.5 615.5,376 615,376.5 614.5,377 614,377.5 613.5,377.64 613,377.78 612.5,377.92 612,378.06 611.5,378.2 611,378.34 610.5,378.48 610,378.62 609.5,378.76 609,378.9 608.5,379.04 608,379.18 607.5,379.32 607,379.46 606.5,379.6 606,379.74 605.5,379.88 605,380.02 604.5,380.16 604,380.3 603.5,380.44 603,380.58 602.5,380.72 602,380.86 601.5,381 601,380.9" fill="#cce4fb" stroke="none"/>
<polygon points="791.5,354.791 792,354.888 792.5,354.985 793,355.082 793.5,355.179 794,355.276 794.5,355.373 795,355.47 795.5,355.567 796,355.664 796.5,355.761 797,355.952 797.5,356.205 798,356.458 798.5,356.711 799,356.964 799.5,357.217 800,357.47 800.5,357.723 801,357.976 801.5,358.229 802,358.482 802.5,358.735 803,358.988 803.5,359.241 804,359.494 804.5,359.747 805,360 805.5,360.299 806,360.597 806.5,360.896 807,361.194 807.5,361.493 808,361.791 808.5,362.09 809,362.388 809.5,362.687 810,362.985 810.5,363.284 811,363.582 811.5,363.881 812,364.561 812.5,365.496 813,366.43 813.5,367.365 814,368.3 814.5,369.37 815,370.44 815.5,371.509 816,372.579 816.5,373.649 817,374.719 817.5,375.788 818,376.858 818.5,377.65 819,378.025 819.5,378.4 820,378.775 820.5,379.15 821,379.525 821.5,379.9 822,380.275 822.5,380.65 823,381.025 823.5,381.4 824,381.775 824.5,382.15 825,382.525 825.5,382.9 826,383.275 826.5,383.65 827,384.025 827.5,384.4 828,384.775 828.5,385.664 829,387.324 829.5,388.984 830,390.644 830.5,392.304 831,393.972 831.5,395.652 832,397.332 832.5,399.012 833,400.692 833.5,401.78 834,401.98 834.5,402.18 835,402.38 835.5,402.58 836,402.78 836.5,402.98 837,403.18 837.5,403.38 838,403.58 838.5,403.7 839,403.7 839.5,403.7 840,403.7 840.5,403.7 841,403.7 841.5,403.7 842,403.7 842.5,403.7 843,403.7 843.5,403.7 844,403.7 844.5,403.7 845,403.7 845.5,403.7 846,403.7 846.5,403.7 847,403.7 847.5,403.7 848,403.7 848.5,403.7 849,403.7 849.5,403.7 850,403.7 850.5,403.7 851,403.7 851.5,403.7 852,403.7 852.5,403.7 853,403.7 853.5,403.7 854,403.7 854.5,403.7 855,403.7 855.5,403.7 856,403.7 856.5,403.7 857,403.645 857.5,403.555 858,403.464 858.5,403.373 859,403.282 859.5,403.191 860,403.1 860.5,403.009 861,402.918 861.5,402.827 862,402.736 862.5,402.645 863,402.555 863.5,402.416 864,402.207 864.5,401.999 865,401.79 865.5,401.581 866,401.372 866.5,401.163 867,400.954 867.5,400.745 868,400.536 868.5,400.327 869,400.118 869.5,399.909 870,399.7 870.5,399.63 871,399.56 871.5,399.49 872,399.42 872.5,399.35 873,399.28 873.5,399.21 874,399.14 874.5,399.07 875,399 875.5,398.93 876,398.86 876.5,398.79 877,398.72 877.5,398.65 878,398.58 878.5,398.51 879,398.44 879.5,398.37 880,398.3 880.5,398.256 881,398.211 881.5,398.167 882,398.122 882.5,398.078 883,398.033 883.5,397.989 884,397.944 884.5,397.9 885,397.856 885.5,397.811 886,397.767 886.5,397.722 887,397.678 887.5,397.633 888,397.589 888.5,397.544 889,397.5 889,353 888.5,353 888,353 887.5,353 887,353 886.5,353 886,353 885.5,353 885,353 884.5,353 884,353 883.5,353 883,353 882.5,353 882,353 881.5,353 881,353 880.5,353 880,353 879.5,353 879,353 878.5,353 878,353 877.5,353 877,353 876.5,353 876,353 875.5,353 875,353 874.5,353 874,353 873.5,353 873,353 872.5,353 872,353 871.5,353 871,353 870.5,353 870,353 869.5,353 869,353 868.5,353 868,353 867.5,353 867,353 866.5,353 866,353 865.5,353 865,353 864.5,353 864,353 863.5,353 863,353 862.5,353 862,353 861.5,353 861,353 860.5,353 860,353 859.5,353 859,353 858.5,353 858,353 857.5,353 857,353 856.5,353 856,353 855.5,353 855,353 854.5,353 854,353 853.5,353 853,353 852.5,353 852,353 851.5,353 851,353 850.5,353 850,353 849.5,353 849,353 848.5,353 848,353 847.5,353 847,353 846.5,353 846,353 845.5,353 845,353 844.5,353 844,353 843.5,353 843,353 842.5,353 842,353 841.5,353 841,353 840.5,353 840,353 839.5,353 839,353 838.5,353 838,353 837.5,353 837,353 836.5,353 836,353 835.5,353 835,353 834.5,353 834,353 833.5,353 833,353 832.5,353 832,353 831.5,352.447 831,351.065 830.5,349.682 830,348.3 829.5,346.98 829,345.66 828.5,344.34 828,343.02 827.5,341.7 827,341.498 826.5,341.295 826,341.093 825.5,340.89 825,340.688 824.5,340.486 824,340.283 823.5,340.081 823,340.044 822.5,340.117 822,340.191 821.5,340.264 821,340.337 820.5,340.41 820,340.484 819.5,340.557 819,340.63 818.5,340.703 818,340.777 817.5,340.85 817,340.923 816.5,340.997 816,341.07 815.5,341.143 815,341.216 814.5,341.29 814,341.363 813.5,341.436 813,341.509 812.5,341.583 812,341.656 811.5,342.014 811,342.8 810.5,343.586 810,344.371 809.5,345.157 809,345.943 808.5,346.729 808,347.514 807.5,348.3 807,349.58 806.5,350.86 806,352.14 805.5,353.42 805,354.7 804.5,354.7 804,354.7 803.5,354.7 803,354.7 802.5,354.7 802,354.7 801.5,354.7 801,354.7 800.5,354.7 800,354.7 799.5,354.7 799,354.7 798.5,354.7 798,354.7 797.5,354.7 797,354.7 796.5,354.7 796,354.7 795.5,354.7 795,354.7 794.5,354.7 794,354.7 793.5,354.7 793,354.7 792.5,354.7 792,354.7 791.5,354.7" fill="#ffc8e2" stroke="none"/>
<polyline points="0,390 6.7,377 12.5,363.3 17.5,346.7 21.7,333.3 26.7,320 30.8,313.3 35.8,302.5 42.5,299 48.3,291.7 56.7,286.7 63.3,271.7 70,260 74,256.7 81.7,256.7 90,257.5 95,261.7 100,265 106.7,260.8 113.3,263.3 120,263.3 133.3,267.5 138,267.5 143.3,261.7 150,254 156.8,250.5 165.5,248 170,251 175.7,257.5 181.6,264 190.3,269.2 197.6,275 206.4,283.8 216.6,290.4 221.7,294 228.3,296.7 235,298.3 250,298.7 266.7,298.7 290,302.5 302,305 331.7,310.8 334,315 337.5,321.7 343.3,323 346.7,330 350,336.7 353.3,346.7 355,351.7 360,356.7 368.3,360 393.3,367.5 413.3,366.7 419,363.3 428,355 435,348.3 440,353.3 448,356.7 457,365 474,377.5 481.5,387.5 489,391 504,393.7 514,397.5 534,402.5 549,402.5 556.5,406 566.5,410 570,407.5 576.5,396 581.5,386 591.5,383.7 601.5,380.5 606.5,370 614,360 620,347 621.7,340 625,336.7 636.7,325.5 656.7,325 660,320 664,313.3 671.7,310.8 678.3,315.8 694,321 696,325 699,330 706,330.4 709,332 715,334 733,344 756,347 766,343 770,338.4 774,343 778,348.4 782,349 790,354.5 796.7,355.8 805,360 811.7,364 814,368.3 818.3,377.5 828.3,385 830.8,393.3 833.3,401.7 838.3,403.7 856.7,403.7 863.3,402.5 870,399.7 880,398.3 889,397.5" fill="none" stroke="#9cc8f8" stroke-width="1.6" stroke-linejoin="round" stroke-linecap="butt" />
<polyline points="0,416 5,405 15,385 21.7,377 27.5,363.3 35.8,353.3 42.5,351.7 49,345.8 162.6,345.8 167.7,319.6 170,317.4 175,316 181.6,312.3 190.3,310 197.6,304.2 206.4,301.3 212.2,297.7 218,295.5 230,295 241.7,294 246.7,291.7 256.7,287.5 260,283.7 265,279 270,277.5 280,276.7 288,272 295,260 330,259.7 332.5,265 335,269 343.3,270.8 345.8,275.8 349,286.7 352.5,295 355,306.7 356.7,315 360,318.3 364,323.3 370,330.8 373.3,331.7 410,331.3 435,331.3 438.3,333.3 444.5,335 454.5,343.7 462,350 474,351 484,357.5 504,358.5 509,366 519,370 549,370 574,371 581.5,377.5 596.5,380 601.5,381 614,377.5 619,372.5 624,357.5 630,354.7 805,354.7 807.5,348.3 811.7,341.7 823.3,340 827.5,341.7 830,348.3 831.7,353 889,353" fill="none" stroke="#ff9ccb" stroke-width="1.6" stroke-linejoin="round" stroke-linecap="butt" />
<defs><pattern id="hatch" width="2" height="2" patternUnits="userSpaceOnUse"><rect width="2" height="2" fill="#0000ff"/><rect x="1" y="0" width="1" height="1" fill="#fff"/><rect x="0" y="1" width="1" height="1" fill="#fff"/></pattern></defs>
<g shape-rendering="crispEdges">
<rect x="5.5" y="258.5" width="4" height="14" fill="none" stroke="#ff0000"/>
<line x1="14.5" y1="225" x2="14.5" y2="233" stroke="#ff0000"/>
<line x1="14.5" y1="256" x2="14.5" y2="258" stroke="#ff0000"/>
<rect x="12.5" y="233.5" width="4" height="22" fill="none" stroke="#ff0000"/>
<line x1="21.5" y1="201" x2="21.5" y2="214" stroke="#ff0000"/>
<line x1="21.5" y1="233" x2="21.5" y2="251" stroke="#ff0000"/>
<rect x="19.5" y="214.5" width="4" height="18" fill="none" stroke="#ff0000"/>
<line x1="28.5" y1="215" x2="28.5" y2="220" stroke="#ff0000"/>
<rect x="26.5" y="178.5" width="4" height="36" fill="none" stroke="#ff0000"/>
<line x1="35.5" y1="175" x2="35.5" y2="233" stroke="#0000ff"/>
<rect x="33" y="179" width="5" height="29" fill="#0000ff"/>
<line x1="42.5" y1="171" x2="42.5" y2="188" stroke="#ff0000"/>
<line x1="42.5" y1="209" x2="42.5" y2="224" stroke="#ff0000"/>
<rect x="40.5" y="188.5" width="4" height="20" fill="none" stroke="#ff0000"/>
<line x1="49.5" y1="165" x2="49.5" y2="219" stroke="#0000ff"/>
<rect x="47" y="188" width="5" height="14" fill="#0000ff"/>
<line x1="56.5" y1="186" x2="56.5" y2="201" stroke="#ff0000"/>
<line x1="56.5" y1="202" x2="56.5" y2="206" stroke="#ff0000"/>
<rect x="54" y="201" width="5" height="1" fill="#ff0000"/>
<line x1="63.5" y1="195" x2="63.5" y2="226" stroke="#0000ff"/>
<rect x="61" y="202" width="5" height="9" fill="#0000ff"/>
<line x1="70.5" y1="204" x2="70.5" y2="238" stroke="#0000ff"/>
<rect x="68" y="212" width="5" height="15" fill="#0000ff"/>
<line x1="77.5" y1="224" x2="77.5" y2="270" stroke="#0000ff"/>
<rect x="75" y="227" width="5" height="32" fill="#0000ff"/>
<line x1="84.5" y1="244" x2="84.5" y2="275" stroke="#0000ff"/>
<rect x="82" y="259" width="5" height="7" fill="#0000ff"/>
<line x1="91.5" y1="260" x2="91.5" y2="310" stroke="#0000ff"/>
<rect x="89" y="265" width="5" height="7" fill="#0000ff"/>
<line x1="98.5" y1="275" x2="98.5" y2="304" stroke="#0000ff"/>
<rect x="96" y="277" width="5" height="11" fill="#0000ff"/>
<line x1="105.5" y1="270" x2="105.5" y2="283" stroke="#ff0000"/>
<line x1="105.5" y1="294" x2="105.5" y2="295" stroke="#ff0000"/>
<rect x="103.5" y="283.5" width="4" height="10" fill="none" stroke="#ff0000"/>
<line x1="112.5" y1="263" x2="112.5" y2="267" stroke="#ff0000"/>
<line x1="112.5" y1="285" x2="112.5" y2="286" stroke="#ff0000"/>
<rect x="110.5" y="267.5" width="4" height="17" fill="none" stroke="#ff0000"/>
<line x1="119.5" y1="267" x2="119.5" y2="284" stroke="#ff0000"/>
<rect x="117.5" y="264.5" width="4" height="2" fill="none" stroke="#ff0000"/>
<line x1="126.5" y1="246" x2="126.5" y2="272" stroke="#0000ff"/>
<rect x="124" y="264" width="5" height="1" fill="#0000ff"/>
<line x1="133.5" y1="227" x2="133.5" y2="236" stroke="#ff0000"/>
<line x1="133.5" y1="266" x2="133.5" y2="267" stroke="#ff0000"/>
<rect x="131.5" y="236.5" width="4" height="29" fill="none" stroke="#ff0000"/>
<line x1="140.5" y1="225" x2="140.5" y2="264" stroke="#0000ff"/>
<rect x="138" y="236" width="5" height="22" fill="#0000ff"/>
<line x1="147.5" y1="247" x2="147.5" y2="252" stroke="#ff0000"/>
<line x1="147.5" y1="260" x2="147.5" y2="266" stroke="#ff0000"/>
<rect x="145.5" y="252.5" width="4" height="7" fill="none" stroke="#ff0000"/>
<line x1="154.5" y1="243" x2="154.5" y2="280" stroke="#0000ff"/>
<rect x="152" y="252" width="5" height="15" fill="#0000ff"/>
<line x1="161.5" y1="254" x2="161.5" y2="268" stroke="#ff0000"/>
<line x1="161.5" y1="269" x2="161.5" y2="272" stroke="#ff0000"/>
<rect x="159" y="268" width="5" height="1" fill="#ff0000"/>
<line x1="168.5" y1="266" x2="168.5" y2="312" stroke="#0000ff"/>
<rect x="166" y="268" width="5" height="27" fill="url(#hatch)"/>
<rect x="166.5" y="268.5" width="4" height="26" fill="none" stroke="#0000ff"/>
<line x1="175.5" y1="281" x2="175.5" y2="336" stroke="#0000ff"/>
<rect x="173" y="296" width="5" height="21" fill="#0000ff"/>
<line x1="182.5" y1="299" x2="182.5" y2="342" stroke="#0000ff"/>
<rect x="180" y="318" width="5" height="15" fill="#0000ff"/>
<line x1="189.5" y1="310" x2="189.5" y2="322" stroke="#ff0000"/>
<line x1="189.5" y1="333" x2="189.5" y2="342" stroke="#ff0000"/>
<rect x="187.5" y="322.5" width="4" height="10" fill="none" stroke="#ff0000"/>
<line x1="196.5" y1="294" x2="196.5" y2="356" stroke="#0000ff"/>
<rect x="194" y="322" width="5" height="16" fill="#0000ff"/>
<line x1="203.5" y1="301" x2="203.5" y2="311" stroke="#ff0000"/>
<line x1="203.5" y1="339" x2="203.5" y2="348" stroke="#ff0000"/>
<rect x="201.5" y="311.5" width="4" height="27" fill="none" stroke="#ff0000"/>
<line x1="210.5" y1="283" x2="210.5" y2="285" stroke="#ff0000"/>
<line x1="210.5" y1="310" x2="210.5" y2="314" stroke="#ff0000"/>
<rect x="208.5" y="285.5" width="4" height="24" fill="none" stroke="#ff0000"/>
<line x1="217.5" y1="263" x2="217.5" y2="274" stroke="#ff0000"/>
<line x1="217.5" y1="285" x2="217.5" y2="298" stroke="#ff0000"/>
<rect x="215.5" y="274.5" width="4" height="10" fill="none" stroke="#ff0000"/>
<line x1="224.5" y1="271" x2="224.5" y2="302" stroke="#0000ff"/>
<rect x="222" y="274" width="5" height="11" fill="#0000ff"/>
<line x1="231.5" y1="282" x2="231.5" y2="293" stroke="#0000ff"/>
<rect x="229" y="287" width="5" height="3" fill="#0000ff"/>
<line x1="238.5" y1="290" x2="238.5" y2="339" stroke="#0000ff"/>
<rect x="236" y="290" width="5" height="25" fill="#0000ff"/>
<line x1="245.5" y1="308" x2="245.5" y2="314" stroke="#ff0000"/>
<line x1="245.5" y1="315" x2="245.5" y2="341" stroke="#ff0000"/>
<rect x="243" y="314" width="5" height="1" fill="#ff0000"/>
<line x1="252.5" y1="292" x2="252.5" y2="302" stroke="#ff0000"/>
<line x1="252.5" y1="314" x2="252.5" y2="320" stroke="#ff0000"/>
<rect x="250.5" y="302.5" width="4" height="11" fill="none" stroke="#ff0000"/>
<line x1="259.5" y1="293" x2="259.5" y2="298" stroke="#ff0000"/>
<line x1="259.5" y1="302" x2="259.5" y2="307" stroke="#ff0000"/>
<rect x="257.5" y="298.5" width="4" height="3" fill="none" stroke="#ff0000"/>
<line x1="266.5" y1="293" x2="266.5" y2="295" stroke="#ff0000"/>
<line x1="266.5" y1="298" x2="266.5" y2="304" stroke="#ff0000"/>
<rect x="264.5" y="295.5" width="4" height="2" fill="none" stroke="#ff0000"/>
<line x1="273.5" y1="296" x2="273.5" y2="303" stroke="#0000ff"/>
<rect x="271" y="296" width="5" height="4" fill="#0000ff"/>
<line x1="280.5" y1="277" x2="280.5" y2="318" stroke="#0000ff"/>
<rect x="278" y="301" width="5" height="1" fill="#0000ff"/>
<line x1="287.5" y1="288" x2="287.5" y2="293" stroke="#ff0000"/>
<line x1="287.5" y1="302" x2="287.5" y2="312" stroke="#ff0000"/>
<rect x="285.5" y="293.5" width="4" height="8" fill="none" stroke="#ff0000"/>
<line x1="294.5" y1="291" x2="294.5" y2="307" stroke="#0000ff"/>
<rect x="292" y="293" width="5" height="5" fill="#0000ff"/>
<line x1="301.5" y1="292" x2="301.5" y2="328" stroke="#0000ff"/>
<rect x="299" y="298" width="5" height="5" fill="#0000ff"/>
<line x1="308.5" y1="296" x2="308.5" y2="327" stroke="#0000ff"/>
<rect x="306" y="303" width="5" height="10" fill="#0000ff"/>
<line x1="315.5" y1="311" x2="315.5" y2="314" stroke="#ff0000"/>
<line x1="315.5" y1="316" x2="315.5" y2="319" stroke="#ff0000"/>
<rect x="313.5" y="314.5" width="4" height="1" fill="none" stroke="#ff0000"/>
<line x1="322.5" y1="313" x2="322.5" y2="316" stroke="#ff0000"/>
<line x1="322.5" y1="317" x2="322.5" y2="319" stroke="#ff0000"/>
<rect x="320" y="316" width="5" height="1" fill="#ff0000"/>
<line x1="329.5" y1="313" x2="329.5" y2="375" stroke="#0000ff"/>
<rect x="327" y="316" width="5" height="50" fill="#0000ff"/>
<line x1="336.5" y1="358" x2="336.5" y2="362" stroke="#ff0000"/>
<line x1="336.5" y1="368" x2="336.5" y2="374" stroke="#ff0000"/>
<rect x="334.5" y="362.5" width="4" height="5" fill="none" stroke="#ff0000"/>
<line x1="343.5" y1="357" x2="343.5" y2="389" stroke="#0000ff"/>
<rect x="341" y="368" width="5" height="21" fill="#0000ff"/>
<line x1="350.5" y1="389" x2="350.5" y2="440" stroke="#0000ff"/>
<rect x="348" y="389" width="5" height="15" fill="#0000ff"/>
<line x1="357.5" y1="405" x2="357.5" y2="422" stroke="#ff0000"/>
<rect x="355.5" y="368.5" width="4" height="36" fill="none" stroke="#ff0000"/>
<line x1="364.5" y1="366" x2="364.5" y2="375" stroke="#0000ff"/>
<rect x="362" y="368" width="5" height="4" fill="#0000ff"/>
<line x1="371.5" y1="345" x2="371.5" y2="354" stroke="#ff0000"/>
<line x1="371.5" y1="372" x2="371.5" y2="374" stroke="#ff0000"/>
<rect x="369.5" y="354.5" width="4" height="17" fill="none" stroke="#ff0000"/>
<line x1="378.5" y1="341" x2="378.5" y2="346" stroke="#ff0000"/>
<line x1="378.5" y1="355" x2="378.5" y2="362" stroke="#ff0000"/>
<rect x="376.5" y="346.5" width="4" height="8" fill="none" stroke="#ff0000"/>
<line x1="385.5" y1="318" x2="385.5" y2="322" stroke="#ff0000"/>
<line x1="385.5" y1="346" x2="385.5" y2="351" stroke="#ff0000"/>
<rect x="383.5" y="322.5" width="4" height="23" fill="none" stroke="#ff0000"/>
<line x1="392.5" y1="318" x2="392.5" y2="336" stroke="#0000ff"/>
<rect x="390" y="322" width="5" height="9" fill="#0000ff"/>
<line x1="399.5" y1="310" x2="399.5" y2="326" stroke="#ff0000"/>
<line x1="399.5" y1="331" x2="399.5" y2="347" stroke="#ff0000"/>
<rect x="397.5" y="326.5" width="4" height="4" fill="none" stroke="#ff0000"/>
<line x1="406.5" y1="326" x2="406.5" y2="343" stroke="#0000ff"/>
<rect x="404" y="326" width="5" height="6" fill="#0000ff"/>
<line x1="413.5" y1="333" x2="413.5" y2="360" stroke="#0000ff"/>
<rect x="411" y="338" width="5" height="12" fill="#0000ff"/>
<line x1="420.5" y1="347" x2="420.5" y2="360" stroke="#0000ff"/>
<rect x="418" y="349" width="5" height="9" fill="#0000ff"/>
<line x1="427.5" y1="349" x2="427.5" y2="369" stroke="#0000ff"/>
<rect x="425" y="359" width="5" height="7" fill="#0000ff"/>
<line x1="434.5" y1="366" x2="434.5" y2="392" stroke="#0000ff"/>
<rect x="432" y="366" width="5" height="8" fill="#0000ff"/>
<line x1="441.5" y1="358" x2="441.5" y2="408" stroke="#0000ff"/>
<rect x="439" y="384" width="5" height="16" fill="#0000ff"/>
<line x1="448.5" y1="388" x2="448.5" y2="393" stroke="#ff0000"/>
<line x1="448.5" y1="400" x2="448.5" y2="404" stroke="#ff0000"/>
<rect x="446.5" y="393.5" width="4" height="6" fill="none" stroke="#ff0000"/>
<line x1="455.5" y1="374" x2="455.5" y2="377" stroke="#ff0000"/>
<line x1="455.5" y1="392" x2="455.5" y2="408" stroke="#ff0000"/>
<rect x="453.5" y="377.5" width="4" height="14" fill="none" stroke="#ff0000"/>
<line x1="462.5" y1="365" x2="462.5" y2="396" stroke="#0000ff"/>
<rect x="460" y="378" width="5" height="7" fill="#0000ff"/>
<line x1="469.5" y1="380" x2="469.5" y2="432" stroke="#0000ff"/>
<rect x="467" y="385" width="5" height="47" fill="#0000ff"/>
<line x1="476.5" y1="405" x2="476.5" y2="430" stroke="#ff0000"/>
<line x1="476.5" y1="431" x2="476.5" y2="453" stroke="#ff0000"/>
<rect x="474" y="430" width="5" height="1" fill="#ff0000"/>
<line x1="483.5" y1="430" x2="483.5" y2="449" stroke="#ff0000"/>
<rect x="481.5" y="411.5" width="4" height="18" fill="none" stroke="#ff0000"/>
<line x1="490.5" y1="398" x2="490.5" y2="408" stroke="#ff0000"/>
<line x1="490.5" y1="412" x2="490.5" y2="415" stroke="#ff0000"/>
<rect x="488.5" y="408.5" width="4" height="3" fill="none" stroke="#ff0000"/>
<line x1="497.5" y1="390" x2="497.5" y2="418" stroke="#0000ff"/>
<rect x="495" y="406" width="5" height="1" fill="#0000ff"/>
<line x1="504.5" y1="396" x2="504.5" y2="457" stroke="#0000ff"/>
<rect x="502" y="406" width="5" height="44" fill="#0000ff"/>
<line x1="511.5" y1="397" x2="511.5" y2="399" stroke="#ff0000"/>
<line x1="511.5" y1="448" x2="511.5" y2="467" stroke="#ff0000"/>
<rect x="509.5" y="399.5" width="4" height="48" fill="none" stroke="#ff0000"/>
<line x1="518.5" y1="386" x2="518.5" y2="391" stroke="#ff0000"/>
<line x1="518.5" y1="400" x2="518.5" y2="403" stroke="#ff0000"/>
<rect x="516.5" y="391.5" width="4" height="8" fill="none" stroke="#ff0000"/>
<line x1="525.5" y1="368" x2="525.5" y2="386" stroke="#ff0000"/>
<line x1="525.5" y1="392" x2="525.5" y2="401" stroke="#ff0000"/>
<rect x="523.5" y="386.5" width="4" height="5" fill="none" stroke="#ff0000"/>
<line x1="532.5" y1="378" x2="532.5" y2="382" stroke="#ff0000"/>
<line x1="532.5" y1="386" x2="532.5" y2="392" stroke="#ff0000"/>
<rect x="530.5" y="382.5" width="4" height="3" fill="none" stroke="#ff0000"/>
<line x1="539.5" y1="388" x2="539.5" y2="391" stroke="#ff0000"/>
<line x1="539.5" y1="396" x2="539.5" y2="398" stroke="#ff0000"/>
<rect x="537.5" y="391.5" width="4" height="4" fill="none" stroke="#ff0000"/>
<line x1="546.5" y1="378" x2="546.5" y2="416" stroke="#0000ff"/>
<rect x="544" y="394" width="5" height="16" fill="#0000ff"/>
<line x1="553.5" y1="386" x2="553.5" y2="388" stroke="#ff0000"/>
<line x1="553.5" y1="410" x2="553.5" y2="416" stroke="#ff0000"/>
<rect x="551.5" y="388.5" width="4" height="21" fill="none" stroke="#ff0000"/>
<line x1="560.5" y1="364" x2="560.5" y2="366" stroke="#ff0000"/>
<rect x="558.5" y="366.5" width="4" height="25" fill="none" stroke="#ff0000"/>
<line x1="567.5" y1="336" x2="567.5" y2="340" stroke="#ff0000"/>
<line x1="567.5" y1="368" x2="567.5" y2="378" stroke="#ff0000"/>
<rect x="565.5" y="340.5" width="4" height="27" fill="none" stroke="#ff0000"/>
<line x1="574.5" y1="327" x2="574.5" y2="351" stroke="#0000ff"/>
<rect x="572" y="340" width="5" height="7" fill="#0000ff"/>
<line x1="581.5" y1="329" x2="581.5" y2="333" stroke="#ff0000"/>
<rect x="579.5" y="333.5" width="4" height="14" fill="none" stroke="#ff0000"/>
<line x1="588.5" y1="323" x2="588.5" y2="348" stroke="#0000ff"/>
<rect x="586" y="334" width="5" height="3" fill="#0000ff"/>
<line x1="595.5" y1="314" x2="595.5" y2="325" stroke="#ff0000"/>
<line x1="595.5" y1="332" x2="595.5" y2="342" stroke="#ff0000"/>
<rect x="593.5" y="325.5" width="4" height="6" fill="none" stroke="#ff0000"/>
<line x1="602.5" y1="289" x2="602.5" y2="320" stroke="#ff0000"/>
<line x1="602.5" y1="326" x2="602.5" y2="328" stroke="#ff0000"/>
<rect x="600.5" y="320.5" width="4" height="5" fill="none" stroke="#ff0000"/>
<line x1="609.5" y1="280" x2="609.5" y2="292" stroke="#ff0000"/>
<rect x="607.5" y="292.5" width="4" height="27" fill="none" stroke="#ff0000"/>
<line x1="616.5" y1="247" x2="616.5" y2="250" stroke="#ff0000"/>
<rect x="614.5" y="250.5" width="4" height="40" fill="none" stroke="#ff0000"/>
<line x1="623.5" y1="245" x2="623.5" y2="255" stroke="#0000ff"/>
<rect x="621" y="250" width="5" height="5" fill="#0000ff"/>
<line x1="630.5" y1="252" x2="630.5" y2="273" stroke="#0000ff"/>
<rect x="628" y="255" width="5" height="15" fill="#0000ff"/>
<line x1="637.5" y1="261" x2="637.5" y2="269" stroke="#ff0000"/>
<line x1="637.5" y1="270" x2="637.5" y2="279" stroke="#ff0000"/>
<rect x="635" y="269" width="5" height="1" fill="#ff0000"/>
<line x1="644.5" y1="250" x2="644.5" y2="260" stroke="#ff0000"/>
<line x1="644.5" y1="269" x2="644.5" y2="277" stroke="#ff0000"/>
<rect x="642.5" y="260.5" width="4" height="8" fill="none" stroke="#ff0000"/>
<line x1="651.5" y1="260" x2="651.5" y2="289" stroke="#0000ff"/>
<rect x="649" y="260" width="5" height="20" fill="#0000ff"/>
<line x1="658.5" y1="280" x2="658.5" y2="306" stroke="#0000ff"/>
<rect x="656" y="283" width="5" height="5" fill="#0000ff"/>
<line x1="665.5" y1="268" x2="665.5" y2="344" stroke="#0000ff"/>
<rect x="663" y="289" width="5" height="33" fill="#0000ff"/>
<line x1="672.5" y1="323" x2="672.5" y2="368" stroke="#0000ff"/>
<rect x="670" y="325" width="5" height="19" fill="#0000ff"/>
<line x1="679.5" y1="312" x2="679.5" y2="330" stroke="#ff0000"/>
<line x1="679.5" y1="345" x2="679.5" y2="358" stroke="#ff0000"/>
<rect x="677.5" y="330.5" width="4" height="14" fill="none" stroke="#ff0000"/>
<line x1="686.5" y1="320" x2="686.5" y2="345" stroke="#0000ff"/>
<rect x="684" y="329" width="5" height="7" fill="#0000ff"/>
<line x1="693.5" y1="335" x2="693.5" y2="416" stroke="#0000ff"/>
<rect x="691" y="338" width="5" height="74" fill="#0000ff"/>
<line x1="700.5" y1="375" x2="700.5" y2="381" stroke="#ff0000"/>
<line x1="700.5" y1="412" x2="700.5" y2="414" stroke="#ff0000"/>
<rect x="698.5" y="381.5" width="4" height="30" fill="none" stroke="#ff0000"/>
<line x1="707.5" y1="353" x2="707.5" y2="365" stroke="#ff0000"/>
<rect x="705.5" y="365.5" width="4" height="14" fill="none" stroke="#ff0000"/>
<rect x="712.5" y="353.5" width="4" height="12" fill="none" stroke="#ff0000"/>
<line x1="721.5" y1="340" x2="721.5" y2="358" stroke="#0000ff"/>
<rect x="719" y="354" width="5" height="1" fill="#0000ff"/>
<line x1="728.5" y1="328" x2="728.5" y2="336" stroke="#ff0000"/>
<line x1="728.5" y1="355" x2="728.5" y2="365" stroke="#ff0000"/>
<rect x="726.5" y="336.5" width="4" height="18" fill="none" stroke="#ff0000"/>
<line x1="735.5" y1="315" x2="735.5" y2="345" stroke="#0000ff"/>
<rect x="733" y="332" width="5" height="1" fill="#0000ff"/>
<line x1="742.5" y1="321" x2="742.5" y2="354" stroke="#0000ff"/>
<rect x="740" y="334" width="5" height="9" fill="#0000ff"/>
<line x1="749.5" y1="334" x2="749.5" y2="341" stroke="#ff0000"/>
<rect x="747.5" y="341.5" width="4" height="3" fill="none" stroke="#ff0000"/>
<line x1="756.5" y1="332" x2="756.5" y2="348" stroke="#0000ff"/>
<rect x="754" y="338" width="5" height="8" fill="#0000ff"/>
<line x1="763.5" y1="332" x2="763.5" y2="381" stroke="#0000ff"/>
<rect x="761" y="342" width="5" height="27" fill="#0000ff"/>
<line x1="770.5" y1="370" x2="770.5" y2="414" stroke="#0000ff"/>
<rect x="768" y="378" width="5" height="23" fill="#0000ff"/>
<line x1="777.5" y1="386" x2="777.5" y2="416" stroke="#0000ff"/>
<rect x="775" y="402" width="5" height="1" fill="#0000ff"/>
<line x1="784.5" y1="390" x2="784.5" y2="424" stroke="#0000ff"/>
<rect x="782" y="403" width="5" height="15" fill="#0000ff"/>
<line x1="791.5" y1="377" x2="791.5" y2="380" stroke="#ff0000"/>
<line x1="791.5" y1="418" x2="791.5" y2="424" stroke="#ff0000"/>
<rect x="789.5" y="380.5" width="4" height="37" fill="none" stroke="#ff0000"/>
<line x1="798.5" y1="376" x2="798.5" y2="396" stroke="#0000ff"/>
<rect x="796" y="380" width="5" height="11" fill="#0000ff"/>
<line x1="805.5" y1="390" x2="805.5" y2="434" stroke="#0000ff"/>
<rect x="803" y="390" width="5" height="37" fill="#0000ff"/>
<line x1="812.5" y1="415" x2="812.5" y2="423" stroke="#ff0000"/>
<line x1="812.5" y1="430" x2="812.5" y2="433" stroke="#ff0000"/>
<rect x="810.5" y="423.5" width="4" height="6" fill="none" stroke="#ff0000"/>
<line x1="819.5" y1="412" x2="819.5" y2="422" stroke="#ff0000"/>
<line x1="819.5" y1="423" x2="819.5" y2="430" stroke="#ff0000"/>
<rect x="817" y="422" width="5" height="1" fill="#ff0000"/>
<line x1="826.5" y1="410" x2="826.5" y2="462" stroke="#0000ff"/>
<rect x="824" y="421" width="5" height="23" fill="#0000ff"/>
<line x1="833.5" y1="422" x2="833.5" y2="432" stroke="#ff0000"/>
<line x1="833.5" y1="444" x2="833.5" y2="453" stroke="#ff0000"/>
<rect x="831.5" y="432.5" width="4" height="11" fill="none" stroke="#ff0000"/>
<line x1="840.5" y1="416" x2="840.5" y2="448" stroke="#0000ff"/>
<rect x="838" y="432" width="5" height="2" fill="#0000ff"/>
<line x1="847.5" y1="408" x2="847.5" y2="409" stroke="#ff0000"/>
<line x1="847.5" y1="434" x2="847.5" y2="453" stroke="#ff0000"/>
<rect x="845.5" y="409.5" width="4" height="24" fill="none" stroke="#ff0000"/>
<line x1="854.5" y1="372" x2="854.5" y2="379" stroke="#ff0000"/>
<line x1="854.5" y1="409" x2="854.5" y2="422" stroke="#ff0000"/>
<rect x="852.5" y="379.5" width="4" height="29" fill="none" stroke="#ff0000"/>
<line x1="861.5" y1="360" x2="861.5" y2="371" stroke="#ff0000"/>
<line x1="861.5" y1="380" x2="861.5" y2="381" stroke="#ff0000"/>
<rect x="859.5" y="371.5" width="4" height="8" fill="none" stroke="#ff0000"/>
<line x1="868.5" y1="356" x2="868.5" y2="369" stroke="#ff0000"/>
<line x1="868.5" y1="372" x2="868.5" y2="381" stroke="#ff0000"/>
<rect x="866.5" y="369.5" width="4" height="2" fill="none" stroke="#ff0000"/>
<line x1="875.5" y1="353" x2="875.5" y2="358" stroke="#ff0000"/>
<line x1="875.5" y1="370" x2="875.5" y2="382" stroke="#ff0000"/>
<rect x="873.5" y="358.5" width="4" height="11" fill="none" stroke="#ff0000"/>
<line x1="882.5" y1="357" x2="882.5" y2="361" stroke="#ff0000"/>
<rect x="880.5" y="348.5" width="4" height="8" fill="none" stroke="#ff0000"/>
</g>
<polyline points="0,515 25,502.5 50,488.7 70,480 100,470 137.5,456 175,442.5 212.5,427.5 237,418.5 262,410 287,403.7 312,398.7 337,395.6 353.7,394 366.4,392.2 382.2,389.5 397,386.4 413.8,383.2 429.7,380 437,378.6 462,375.5 474,374.5 499,370 524,365 549,360.5 574,356 599,351 624,347 649,342.5 674,340 699,337.5 711,336 736,332.5 761,330 786,328.7 811,328.7 836,329.5 861,330.5 882,331" fill="none" stroke="#00ffff" stroke-width="2.2" stroke-linejoin="round" stroke-linecap="butt" />
<polyline points="0,254 5.5,230 15,185 27.5,125 42.5,82.5 57.5,55 71,46 85,54 100,70 105,79 120,97.5 134,137.5 140,142.5 150,143.7 169,143 175,150 182.5,148.7 190,158.7 196.7,164.2 206.7,183.3 218.3,200.8 225,204.5 231.7,206.5 240,206 252,205.5 262,210 273,215 281,227.5 283,230 297,245 309.5,256 320.7,258.7 332,247.5 342,230 351,211 357,212.5 367,218.7 378,226 387,227.5 396,230 412,240 432,255 440,263.3 447,270 461.7,284.7 467.5,285.5 475,279.2 486.7,278 497.5,277.5 504.2,270.8 511.7,271.3 525,278.3 536.7,296.7 553.3,325 560.3,330 573.3,320.8 586.7,300 599,280 609,252.5 615,230 624,205 634,187.5 644.7,171.7 651.5,175.7 658,174.5 679,183.7 686.5,189 694,188.7 700,190.5 711,190 748.5,189 756,192.5 763.5,205 773.5,217.5 785,229 791,245 798.5,260 806,271 818.5,275 831,277.5 841,277 853.5,280 868.5,283.7 882,292" fill="none" stroke="#33c8f8" stroke-width="1.35" stroke-linejoin="round" stroke-linecap="butt" />
<polyline points="0,535 7.5,552.5 28,584.5 42.5,580 55,560 72.5,532.5 87.5,495 100,460 110,435 120,407 127.5,372.5 135,348.7 142.5,338.7 150,336 160,340 170,352.5 180,366 190,372.5 197.5,379.5 205,372.5 215,365 225,362.5 237,366 252,372.5 267,372.5 282,366 297,355 310,350.8 321.7,351.7 329,365.8 338.3,380 345,396.7 350,420 356.7,427.5 363.3,433.3 370,434.7 393.3,434.7 413.3,432.5 433.3,433.7 441.7,438.3 448,441 462,439.5 474,457.5 481.5,466 489,470 497.7,471 505,483.7 516.5,487 526.5,485.5 539,476 551.5,465 560,461 571.5,467.5 581.5,476 594,483.7 604,491 610,501 616.5,511 624,515 634,513.7 644,510.5 651.5,490 664,472.5 676.5,457.5 686.5,446 694,446.7 701.5,444.5 711,445 723.5,447.5 736,447 753.5,452 763.5,452.5 773.5,461 784.7,469 791,461 798.5,457.5 808.5,466 818.5,475 827,486 836,492.5 846,497 858.5,496.7 868.5,495 882,490" fill="none" stroke="#33c8f8" stroke-width="1.35" stroke-linejoin="round" stroke-linecap="butt" />
<polyline points="0,310 7.5,280 15,250 19,230 25,210 37.5,175 50,147.5 62.5,131 71,127.5 80,128 95,133.7 102.5,140 115,147.5 125,160 134,173.7 140,175.7 155,176.2 167.5,178.7 175,185 182.5,185.7 195,200 207.5,217.5 220,228.7 228,232 237,233.7 250,233.5 264.5,241 279.5,252.5 294.5,265 307,273.7 319.5,274.5 329.5,267.5 342,253.7 350.7,247 362,253.7 377,261 392,263.7 407,271 422,282.5 437,293.7 452,303.7 461.7,310 469.2,313.3 475.8,310.3 486.5,310 497.5,309.7 505,306.7 511.7,307 521.7,310 530,318.3 540,330 553.3,348.3 560.3,351.7 573.3,345 586.7,331.7 599,315 609,297.5 619,272.5 629,252.5 643,229 659,225.7 674,227.5 684,230 699,232.5 711,232.5 736,232.5 751,233.7 761,242.5 773.5,257.5 783.5,267.5 791,285 801,298.7 811,305 823.5,310 836,313.7 848.5,312.5 861,316 873.5,321 882,325.5" fill="none" stroke="#ff99cc" stroke-width="3.2" stroke-linejoin="round" stroke-linecap="butt" />
<polyline points="0,488.7 7.5,497.5 15,500 28,508 43.7,496 50,487.5 62.5,465 75,442.5 87.5,420 100,397 110,372.5 120,347.5 127.5,327.5 132.5,313.7 137.5,307.5 147.5,304.5 157.5,306 167.5,311 175,317.5 182.5,326 190,335 200,340 210,338.7 220,337 230,337.5 237,340 252,345 267,345.5 282,340 297,336 312,335 322,337 330,346.7 338.3,356.7 343.3,366.7 348.3,380 353.3,390 361.7,395.8 370,398.7 383.3,400 406.7,400.5 420,401.7 433.3,405 442,409 452,413 462,414 474,428.7 481.5,436 489,438.7 497.7,438 505,447.5 514,451 526.5,451 539,446 551.5,441 560,439.5 571.5,443.7 581.5,447.5 594,451 606.5,458.7 616.5,464 624,463.7 634,460 644,455 648.3,447 653.3,436.7 663.3,425 673.3,415 685,404 696.7,402 711,401 726,402.5 741,405.5 753.5,407.5 763.5,411 773.5,420 784.7,428.7 791,425.5 798.5,425 808.5,433.7 818.5,442.5 828.5,452.5 836,457.5 846,460 861,460 873.5,458 882,456.7" fill="none" stroke="#ff99cc" stroke-width="3.2" stroke-linejoin="round" stroke-linecap="butt" />
<polyline points="0,352.5 12.5,322.5 25,292.5 37.5,262.5 47.5,240 52.5,230 62.5,215 72.5,207.5 85,203.7 100,203 117.5,203 135,208 150,208 167.5,211 180,221 190,229 200,240 212.5,248.7 225,255 237,260 252,262.5 267,268.7 282,277.5 297,285 312,290 322,291 337,286 350.7,281 362,286 377,293.7 392,297.5 407,301 422,310 437,321 452,331 467,338.7 474,340 489,340 504,341 519,345 531.5,352.5 544,365 556.5,372.5 569,370 581.5,362.5 594,352.5 606.5,340 616.5,325 626.5,307.5 636.5,292.5 646.5,282.5 659,276.7 674,275.5 691.5,275 711,275.5 736,275 751,276 758.5,280 768.5,292.5 781,307.5 791,318.7 801,328.7 811,337.5 821,343.7 831,349.5 843.5,350.5 856,353 868.5,355.5 882,358.7" fill="none" stroke="#00ff00" stroke-width="3.4" stroke-linejoin="round" stroke-linecap="butt" />
<polyline points="0,443.7 7.5,443.7 15,438.7 28.7,431 43.7,412.5 57.5,392.5 75,370 90,348.7 105,330 117.5,312.5 125,297.5 130,283.7 136,276 145,273 155,273.7 165,278.7 175,287.5 185,298.7 195,306 207.5,309.5 220,310.5 237,312.5 252,316 267,318.7 282,318.7 297,318 312,318.7 323,320 334.5,330 344.5,342.5 354.5,355 367,362.5 382,366 397,367.5 412,368.7 427,373.7 442,381 457,387.5 474,398.5 486.5,405 497.7,405.5 505,412.5 519,415 534,416 551.5,417.7 566.5,418.7 581.5,419.5 596.5,418.7 609,418.7 619,416 629,410 639,402.5 649,390 659,377.5 671.5,368.7 684,362.5 694,360 711,359.5 726,360 741,362.5 751,366 761,370 771,373.7 781,382.5 791,390 801,395 811,402.5 821,411 831,418.7 841,422.5 851,424 866,424.7 882,424" fill="none" stroke="#00ff00" stroke-width="3.4" stroke-linejoin="round" stroke-linecap="butt" />
<polyline points="0,396 12.5,377.5 25,357.5 37.5,337.5 50,321 62.5,305 75,290 87.5,277.5 100,267.5 112.5,257.5 125,248.7 135,243.7 147.5,241 160,243.7 170,250 180,258.7 190,267.5 200,275 212.5,281 225,283.7 237,287 252,291 267,295 282,298.7 297,302.5 312,305 327,307.5 337,310 352,316 362,322.5 372,328.7 382,331 397,332 412,336 427,345 442,355 457,363.7 474,369.5 489,375 504,378.7 519,383.7 534,390 549,393.7 561.5,395 574,393.7 586.5,388.7 599,382.5 609,376 619,367.5 629,355 639,343.7 649,333.7 659,326 671.5,321 686.5,318 699,317.5 711,317.5 726,317.5 741,318 753.5,321 766,332.5 778.5,343.7 791,353.7 801,362.5 811,370 821,377.5 831,383.7 843.5,386 856,388 868.5,389.5 882,390.7" fill="none" stroke="#00c8ff" stroke-width="3.4" stroke-linejoin="round" stroke-linecap="butt" />
<polyline points="0,257.5 7.5,251 14.5,268 21.5,268 28.5,293 35.5,318 42.5,333.3 49.5,322.5 56.5,340 63.5,313 70.5,286 77.5,274 84.5,285.8 91.5,289 98.5,315 105.5,314.3 112.5,302.5 119.5,299 126.5,295 133.5,300.8 140.5,301.7 147.5,293.3 154.5,302.5 161.5,305 168.5,312 175.5,314.5 182.5,314.7 189.5,365 196.5,361.7 203.5,387 210.5,412.5 217.5,368.7 224.5,372.5 231.5,357 238.5,345 245.5,322.5 252.5,330 259.5,326 266.5,338 273.5,350 280.5,358 287.5,365 294.5,380 301.5,400.8 308.5,394 315.5,375 322.5,385 329.5,431.7 336.5,430.8 343.5,411.7 350.5,406 357.5,406 364.5,454 371.5,398.3 378.5,390 385.5,386 392.5,381.7 399.5,391 406.5,411.7 413.5,388 420.5,364 427.5,340.8 434.5,346.7 441.5,332.5 448.5,336 455.5,324.5 462.5,318.7 469.5,291.7 476.5,247.5 483.5,254.7 490.5,269.7 497.5,269.2 504.5,260.8 511.5,281 518.5,289 525.5,322 532.5,344.5 539.5,329.2 546.5,336.8 553.5,417.5 560.5,380.4 567.5,363 574.5,353 581.5,354 588.5,333.3 595.5,334 602.5,344 609.5,341.7 616.5,341.7 623.5,371 630.5,402.5 637.5,403.3 644.5,418.3 651.5,380 658.5,391.7 665.5,428.3 672.5,424 679.5,422 686.5,443.3 693.5,433.3 700.5,434 707.5,409 714.5,379 721.5,371.7 728.5,368.3 735.5,357" fill="none" stroke="#ff0000" stroke-width="3.4" stroke-linejoin="round" stroke-linecap="butt" stroke-linejoin="miter"/>
<g fill="#ffb6c1" shape-rendering="crispEdges">
<rect x="6" y="688" width="4" height="18"/>
<rect x="13" y="684" width="4" height="22"/>
<rect x="20" y="682" width="4" height="24"/>
<rect x="27" y="678" width="4" height="28"/>
<rect x="34" y="682" width="4" height="24"/>
<rect x="41" y="686" width="4" height="20"/>
<rect x="48" y="693" width="4" height="13"/>
<rect x="55" y="699" width="4" height="7"/>
<rect x="62" y="705" width="4" height="1"/>
<rect x="69" y="707" width="4" height="7"/>
<rect x="76" y="707" width="4" height="15"/>
<rect x="83" y="707" width="4" height="21"/>
<rect x="90" y="707" width="4" height="24"/>
<rect x="97" y="707" width="4" height="27"/>
<rect x="104" y="707" width="4" height="28"/>
<rect x="111" y="707" width="4" height="24"/>
<rect x="118" y="707" width="4" height="20"/>
<rect x="125" y="707" width="4" height="15"/>
<rect x="132" y="707" width="4" height="9"/>
<rect x="139" y="707" width="4" height="6"/>
<rect x="146" y="707" width="4" height="3"/>
<rect x="153" y="707" width="4" height="3"/>
<rect x="160" y="707" width="4" height="3"/>
<rect x="167" y="707" width="4" height="6"/>
<rect x="174" y="707" width="4" height="10"/>
<rect x="181" y="707" width="4" height="15"/>
<rect x="188" y="707" width="4" height="15"/>
<rect x="195" y="707" width="4" height="16"/>
<rect x="202" y="707" width="4" height="11"/>
<rect x="209" y="707" width="4" height="4"/>
<rect x="216" y="705" width="4" height="1"/>
<rect x="223" y="703" width="4" height="3"/>
<rect x="230" y="702" width="4" height="4"/>
<rect x="237" y="705" width="4" height="1"/>
<rect x="244" y="707" width="4" height="1"/>
<rect x="251" y="707" width="4" height="1"/>
<rect x="258" y="707" width="4" height="1"/>
<rect x="265" y="707" width="4" height="1"/>
<rect x="272" y="707" width="4" height="1"/>
<rect x="279" y="707" width="4" height="1"/>
<rect x="286" y="705" width="4" height="1"/>
<rect x="293" y="705" width="4" height="1"/>
<rect x="300" y="705" width="4" height="1"/>
<rect x="307" y="707" width="4" height="1"/>
<rect x="314" y="707" width="4" height="1"/>
<rect x="321" y="707" width="4" height="1"/>
<rect x="328" y="707" width="4" height="5"/>
<rect x="335" y="707" width="4" height="9"/>
<rect x="342" y="707" width="4" height="12"/>
<rect x="349" y="707" width="4" height="13"/>
<rect x="356" y="707" width="4" height="12"/>
<rect x="363" y="707" width="4" height="8"/>
<rect x="370" y="707" width="4" height="3"/>
<rect x="377" y="704" width="4" height="2"/>
<rect x="384" y="698" width="4" height="8"/>
<rect x="391" y="694" width="4" height="12"/>
<rect x="398" y="692" width="4" height="14"/>
<rect x="405" y="692" width="4" height="14"/>
<rect x="412" y="695" width="4" height="11"/>
<rect x="419" y="699" width="4" height="7"/>
<rect x="426" y="702" width="4" height="4"/>
<rect x="433" y="705" width="4" height="1"/>
<rect x="440" y="707" width="4" height="4"/>
<rect x="447" y="707" width="4" height="7"/>
<rect x="454" y="707" width="4" height="5"/>
<rect x="461" y="707" width="4" height="4"/>
<rect x="468" y="707" width="4" height="8"/>
<rect x="475" y="707" width="4" height="10"/>
<rect x="482" y="707" width="4" height="8"/>
<rect x="489" y="707" width="4" height="5"/>
<rect x="496" y="707" width="4" height="3"/>
<rect x="503" y="707" width="4" height="5"/>
<rect x="510" y="707" width="4" height="1"/>
<rect x="517" y="702" width="4" height="4"/>
<rect x="524" y="698" width="4" height="8"/>
<rect x="531" y="695" width="4" height="11"/>
<rect x="538" y="695" width="4" height="11"/>
<rect x="545" y="697" width="4" height="9"/>
<rect x="552" y="697" width="4" height="9"/>
<rect x="559" y="694" width="4" height="12"/>
<rect x="566" y="691" width="4" height="15"/>
<rect x="573" y="691" width="4" height="15"/>
<rect x="580" y="689" width="4" height="17"/>
<rect x="587" y="690" width="4" height="16"/>
<rect x="594" y="690" width="4" height="16"/>
<rect x="601" y="691" width="4" height="15"/>
<rect x="608" y="690" width="4" height="16"/>
<rect x="615" y="686" width="4" height="20"/>
<rect x="622" y="688" width="4" height="18"/>
<rect x="629" y="690" width="4" height="16"/>
<rect x="636" y="694" width="4" height="12"/>
<rect x="643" y="697" width="4" height="9"/>
<rect x="650" y="702" width="4" height="4"/>
<rect x="657" y="707" width="4" height="2"/>
<rect x="664" y="707" width="4" height="9"/>
<rect x="671" y="707" width="4" height="15"/>
<rect x="678" y="707" width="4" height="17"/>
<rect x="685" y="707" width="4" height="19"/>
<rect x="692" y="707" width="4" height="25"/>
<rect x="699" y="707" width="4" height="25"/>
<rect x="706" y="707" width="4" height="21"/>
<rect x="713" y="707" width="4" height="15"/>
<rect x="720" y="707" width="4" height="8"/>
<rect x="727" y="707" width="4" height="3"/>
<rect x="734" y="705" width="4" height="1"/>
<rect x="741" y="703" width="4" height="3"/>
<rect x="748" y="701" width="4" height="5"/>
<rect x="755" y="700" width="4" height="6"/>
<rect x="762" y="704" width="4" height="2"/>
<rect x="769" y="707" width="4" height="3"/>
<rect x="776" y="707" width="4" height="7"/>
<rect x="783" y="707" width="4" height="11"/>
<rect x="790" y="707" width="4" height="8"/>
<rect x="797" y="707" width="4" height="7"/>
<rect x="804" y="707" width="4" height="9"/>
<rect x="811" y="707" width="4" height="9"/>
<rect x="818" y="707" width="4" height="8"/>
<rect x="825" y="707" width="4" height="7"/>
<rect x="832" y="707" width="4" height="7"/>
<rect x="839" y="707" width="4" height="5"/>
<rect x="846" y="707" width="4" height="2"/>
<rect x="853" y="701" width="4" height="5"/>
<rect x="860" y="696" width="4" height="10"/>
<rect x="867" y="692" width="4" height="14"/>
<rect x="874" y="689" width="4" height="17"/>
<rect x="881" y="687" width="4" height="19"/>
</g>
<polyline points="0,666 12.5,652.5 27.5,636.7 35,635.7 42.5,633.7 50,635.7 60,640 70,647.5 80,658.7 92.5,673.7 105,686 115,689.5 126,692 133.7,690 140,691 147.5,691 160,695 170,701 180,711 190,717.5 197.5,720 205,718.7 215,712.5 222.5,710 230,709.5 237,711.7 244.5,715.5 262,715 282,715 299.5,714.5 322,715.7 329.5,722.5 339.5,728.7 350.7,738 364.5,735.5 373,731 384.5,722 397,715 407,713 417,713.7 429.5,715.7 439.5,721 448,724 457,722.5 463,723 474,731 480,733 489,732 497.7,730.5 504.5,734.5 514,728.7 524,722.5 534,716.7 540,715.7 546.5,716.7 554,713.7 561.5,707.5 569,701 579,696 589,692.5 601.5,686.7 610,680 616.5,672.5 624,668 634,667.7 644,668 654,672.5 664,681 672.7,691 686.5,698.7 694,708.7 700,715 706.5,716.7 711,716 721,715.5 731,710.5 743.5,708 756,707 763.5,710 773.5,717.5 784.7,724 791,722.5 797,722.5 808.5,728.7 818.5,731 827,735 839.7,736 847,733.7 854.7,727.5 861,722.5 871,715 882,706" fill="none" stroke="#00ffff" stroke-width="2.6" stroke-linejoin="round" stroke-linecap="butt" />
<polyline points="0,678.7 15,672.5 30,662.5 45,651 57.5,643.7 71,640.5 82.5,642.5 95,648.7 107.5,660 120,671 132.5,680 145,685.7 157.5,689.5 170,692.5 182.5,696 195,701.7 207.5,707.5 220,711 230,713 237,714 252,714.5 267,713.7 287,714.5 307,715 322,715.5 337,718 352,722.5 367,727.5 382,730 392,730 404.5,727.5 417,723 429.5,718.7 442,717 454.5,717.5 467,720 474,722.5 486.5,726 499,728.7 514,730 526.5,730 541.5,727 559,721.7 574,715 589,707.5 604,700 619,690.5 634,681 649,675 659,673 669,673 679,675.7 689,680 699,687.5 711,697.5 721,705 731,709 741,711 751,712.5 761,712 771,711 783.5,713 796,715.5 808.5,719.5 821,724.5 833.5,728 846,730 858.5,730 871,728 882,724.5" fill="none" stroke="#00ff00" stroke-width="2.7" stroke-linejoin="round" stroke-linecap="butt" />
<g stroke="#4d6626" stroke-width="1" stroke-dasharray="1 1" shape-rendering="crispEdges">
<line x1="4.5" y1="25" x2="4.5" y2="806"/>
<line x1="46.5" y1="25" x2="46.5" y2="806"/>
<line x1="102.5" y1="25" x2="102.5" y2="806"/>
<line x1="137.5" y1="25" x2="137.5" y2="806"/>
<line x1="179.5" y1="25" x2="179.5" y2="806"/>
<line x1="221.5" y1="25" x2="221.5" y2="806"/>
<line x1="263.5" y1="25" x2="263.5" y2="806"/>
<line x1="319.5" y1="25" x2="319.5" y2="806"/>
<line x1="354.5" y1="25" x2="354.5" y2="806"/>
<line x1="396.5" y1="25" x2="396.5" y2="806"/>
<line x1="438.5" y1="25" x2="438.5" y2="806"/>
<line x1="480.5" y1="25" x2="480.5" y2="806"/>
<line x1="536.5" y1="25" x2="536.5" y2="806"/>
<line x1="571.5" y1="25" x2="571.5" y2="806"/>
<line x1="613.5" y1="25" x2="613.5" y2="806"/>
<line x1="655.5" y1="25" x2="655.5" y2="806"/>
<line x1="697.5" y1="25" x2="697.5" y2="806"/>
<line x1="753.5" y1="25" x2="753.5" y2="806"/>
<line x1="788.5" y1="25" x2="788.5" y2="806"/>
<line x1="830.5" y1="25" x2="830.5" y2="806"/>
<line x1="872.5" y1="25" x2="872.5" y2="806"/>
</g>
<g shape-rendering="crispEdges" fill="none" stroke="#ff00ff">
<rect x="715.5" y="346.5" width="35" height="25" stroke-width="3"/>
<line x1="742.6" y1="322" x2="801.5" y2="322" stroke-width="3.8"/>
<line x1="799.3" y1="323.5" x2="849" y2="168.5" stroke-width="3.8"/>
<line x1="848.5" y1="169" x2="877" y2="169" stroke-width="3.8"/>
<line x1="742.8" y1="322" x2="833.8" y2="457.3" stroke-width="3.8"/>
</g>
<g font-family='"IPAGothic","Noto Sans Mono CJK JP","Liberation Mono",monospace' font-size="12" fill="#000" stroke="#000" stroke-width="0.18">
<text x="19.1" y="162">157<tspan dx="1.6">.</tspan><tspan dx="-1.6">9</tspan><tspan font-family='"Noto Sans Mono CJK JP","IPAGothic","Liberation Mono",monospace'>0</tspan>2</text>
<text x="117.2" y="223">157<tspan dx="1.6">.</tspan><tspan dx="-1.6">1</tspan>9<tspan font-family='"Noto Sans Mono CJK JP","IPAGothic","Liberation Mono",monospace'>0</tspan></text>
<text x="68.1" y="317">156<tspan dx="1.6">.</tspan><tspan dx="-1.6">2</tspan><tspan font-family='"Noto Sans Mono CJK JP","IPAGothic","Liberation Mono",monospace'>0</tspan><tspan font-family='"Noto Sans Mono CJK JP","IPAGothic","Liberation Mono",monospace'>0</tspan></text>
<text x="194.1" y="261">156<tspan dx="1.6">.</tspan><tspan dx="-1.6">7</tspan>37</text>
<text x="173.2" y="363">155<tspan dx="1.6">.</tspan><tspan dx="-1.6">6</tspan>53</text>
<text x="215.1" y="357">155<tspan dx="1.6">.</tspan><tspan dx="-1.6">7</tspan>22</text>
<text x="257.1" y="274">156<tspan dx="1.6">.</tspan><tspan dx="-1.6">5</tspan>82</text>
<text x="376.1" y="308">156<tspan dx="1.6">.</tspan><tspan dx="-1.6">1</tspan>8<tspan font-family='"Noto Sans Mono CJK JP","IPAGothic","Liberation Mono",monospace'>0</tspan></text>
<text x="327" y="447">154<tspan dx="1.6">.</tspan><tspan dx="-1.6">6</tspan>64</text>
<text x="502.3" y="366">155<tspan dx="1.6">.</tspan><tspan dx="-1.6">4</tspan>94</text>
<text x="523.1" y="427">154<tspan dx="1.6">.</tspan><tspan dx="-1.6">9</tspan><tspan font-family='"Noto Sans Mono CJK JP","IPAGothic","Liberation Mono",monospace'>0</tspan><tspan font-family='"Noto Sans Mono CJK JP","IPAGothic","Liberation Mono",monospace'>0</tspan></text>
<text x="488.5" y="474">154<tspan dx="1.6">.</tspan><tspan dx="-1.6">3</tspan>42</text>
<text x="600.1" y="243">156<tspan dx="1.6">.</tspan><tspan dx="-1.6">9</tspan>57</text>
<text x="670.4" y="423">154<tspan dx="1.6">.</tspan><tspan dx="-1.6">9</tspan>44</text>
<text x="712.5" y="313">156<tspan dx="1.6">.</tspan><tspan dx="-1.6">1</tspan>29</text>
<text x="803.1" y="470">154<tspan dx="1.6">.</tspan><tspan dx="-1.6">3</tspan>9<tspan font-family='"Noto Sans Mono CJK JP","IPAGothic","Liberation Mono",monospace'>0</tspan></text>
<text x="901.5" y="31.5">159<tspan dx="1.6">.</tspan><tspan dx="-1.6">5</tspan><tspan font-family='"Noto Sans Mono CJK JP","IPAGothic","Liberation Mono",monospace'>0</tspan></text>
<text x="901.5" y="73.5">159<tspan dx="1.6">.</tspan><tspan font-family='"Noto Sans Mono CJK JP","IPAGothic","Liberation Mono",monospace' dx="-1.6">0</tspan><tspan font-family='"Noto Sans Mono CJK JP","IPAGothic","Liberation Mono",monospace'>0</tspan></text>
<text x="901.5" y="116.5">158<tspan dx="1.6">.</tspan><tspan dx="-1.6">5</tspan><tspan font-family='"Noto Sans Mono CJK JP","IPAGothic","Liberation Mono",monospace'>0</tspan></text>
<text x="901.5" y="158.5">158<tspan dx="1.6">.</tspan><tspan font-family='"Noto Sans Mono CJK JP","IPAGothic","Liberation Mono",monospace' dx="-1.6">0</tspan><tspan font-family='"Noto Sans Mono CJK JP","IPAGothic","Liberation Mono",monospace'>0</tspan></text>
<text x="901.5" y="201.5">157<tspan dx="1.6">.</tspan><tspan dx="-1.6">5</tspan><tspan font-family='"Noto Sans Mono CJK JP","IPAGothic","Liberation Mono",monospace'>0</tspan></text>
<text x="901.5" y="243.5">157<tspan dx="1.6">.</tspan><tspan font-family='"Noto Sans Mono CJK JP","IPAGothic","Liberation Mono",monospace' dx="-1.6">0</tspan><tspan font-family='"Noto Sans Mono CJK JP","IPAGothic","Liberation Mono",monospace'>0</tspan></text>
<text x="901.5" y="285.5">156<tspan dx="1.6">.</tspan><tspan dx="-1.6">5</tspan><tspan font-family='"Noto Sans Mono CJK JP","IPAGothic","Liberation Mono",monospace'>0</tspan></text>
<text x="901.5" y="328.5">156<tspan dx="1.6">.</tspan><tspan font-family='"Noto Sans Mono CJK JP","IPAGothic","Liberation Mono",monospace' dx="-1.6">0</tspan><tspan font-family='"Noto Sans Mono CJK JP","IPAGothic","Liberation Mono",monospace'>0</tspan></text>
<text x="901.5" y="370.5">155<tspan dx="1.6">.</tspan><tspan dx="-1.6">5</tspan><tspan font-family='"Noto Sans Mono CJK JP","IPAGothic","Liberation Mono",monospace'>0</tspan></text>
<text x="901.5" y="412.5">155<tspan dx="1.6">.</tspan><tspan font-family='"Noto Sans Mono CJK JP","IPAGothic","Liberation Mono",monospace' dx="-1.6">0</tspan><tspan font-family='"Noto Sans Mono CJK JP","IPAGothic","Liberation Mono",monospace'>0</tspan></text>
<text x="901.5" y="455.5">154<tspan dx="1.6">.</tspan><tspan dx="-1.6">5</tspan><tspan font-family='"Noto Sans Mono CJK JP","IPAGothic","Liberation Mono",monospace'>0</tspan></text>
<text x="901.5" y="497.5">154<tspan dx="1.6">.</tspan><tspan font-family='"Noto Sans Mono CJK JP","IPAGothic","Liberation Mono",monospace' dx="-1.6">0</tspan><tspan font-family='"Noto Sans Mono CJK JP","IPAGothic","Liberation Mono",monospace'>0</tspan></text>
<text x="901.5" y="539.5">153<tspan dx="1.6">.</tspan><tspan dx="-1.6">5</tspan><tspan font-family='"Noto Sans Mono CJK JP","IPAGothic","Liberation Mono",monospace'>0</tspan></text>
<text x="901.5" y="582.5">153<tspan dx="1.6">.</tspan><tspan font-family='"Noto Sans Mono CJK JP","IPAGothic","Liberation Mono",monospace' dx="-1.6">0</tspan><tspan font-family='"Noto Sans Mono CJK JP","IPAGothic","Liberation Mono",monospace'>0</tspan></text>
<text x="901.5" y="110.5">158.575</text>
<text x="904" y="613.5">1<tspan dx="1.6">.</tspan><tspan font-family='"Noto Sans Mono CJK JP","IPAGothic","Liberation Mono",monospace' dx="-1.6">0</tspan><tspan font-family='"Noto Sans Mono CJK JP","IPAGothic","Liberation Mono",monospace'>0</tspan><tspan font-family='"Noto Sans Mono CJK JP","IPAGothic","Liberation Mono",monospace'>0</tspan></text>
<text x="904" y="663.5"><tspan font-family='"Noto Sans Mono CJK JP","IPAGothic","Liberation Mono",monospace'>0</tspan><tspan dx="1.6">.</tspan><tspan dx="-1.6">5</tspan><tspan font-family='"Noto Sans Mono CJK JP","IPAGothic","Liberation Mono",monospace'>0</tspan><tspan font-family='"Noto Sans Mono CJK JP","IPAGothic","Liberation Mono",monospace'>0</tspan></text>
<text x="901" y="753.5">-<tspan font-family='"Noto Sans Mono CJK JP","IPAGothic","Liberation Mono",monospace'>0</tspan><tspan dx="1.6">.</tspan><tspan dx="-1.6">5</tspan><tspan font-family='"Noto Sans Mono CJK JP","IPAGothic","Liberation Mono",monospace'>0</tspan><tspan font-family='"Noto Sans Mono CJK JP","IPAGothic","Liberation Mono",monospace'>0</tspan></text>
<text x="901" y="803.5">-1<tspan dx="1.6">.</tspan><tspan font-family='"Noto Sans Mono CJK JP","IPAGothic","Liberation Mono",monospace' dx="-1.6">0</tspan><tspan font-family='"Noto Sans Mono CJK JP","IPAGothic","Liberation Mono",monospace'>0</tspan><tspan font-family='"Noto Sans Mono CJK JP","IPAGothic","Liberation Mono",monospace'>0</tspan></text>
<text x="6" y="816">11/2<tspan font-family='"Noto Sans Mono CJK JP","IPAGothic","Liberation Mono",monospace'>0</tspan></text>
<text x="48" y="816">11/21</text>
<text x="104" y="816">11/24</text>
<text x="139" y="816">11/25</text>
<text x="181" y="816">11/26</text>
<text x="223" y="816">11/27</text>
<text x="265" y="816">11/28</text>
<text x="321" y="816">12/1</text>
<text x="356" y="816">12/2</text>
<text x="398" y="816">12/3</text>
<text x="440" y="816">12/4</text>
<text x="482" y="816">12/5</text>
<text x="538" y="816">12/8</text>
<text x="573" y="816">12/9</text>
<text x="615" y="816">12/1<tspan font-family='"Noto Sans Mono CJK JP","IPAGothic","Liberation Mono",monospace'>0</tspan></text>
<text x="657" y="816">12/11</text>
<text x="699" y="816">12/12</text>
<text x="755" y="816">12/15</text>
<text x="790" y="816">12/16</text>
<text x="832" y="816">12/17</text>
<text x="874" y="816">12/18</text>
</g>
<g font-family='"IPAGothic","Noto Sans Mono CJK JP","Liberation Mono",monospace' font-size="12" fill="#ff00ff">
<text x="740" y="314.5">1</text><text x="795" y="335">2</text><text x="844" y="161">3</text><text x="872.5" y="182">4</text>
</g>
</svg>
<div id="tb">
<div class="topline" style="left:0;width:15px"></div><div class="topline" style="left:15px;width:185px;background:#d9d9d9"></div><div class="topline" style="left:200px;width:748px;background:#9a9a9a"></div>
<div class="cb" style="left:0px;width:128px;border-color:#7a7a7a">
 <div style="position:absolute;left:1px;top:1px;width:109px;height:16px;background:#000"></div>
 <svg style="position:absolute;left:2px;top:3px" width="41" height="13" viewBox="0 0 41 13" shape-rendering="crispEdges">
  <rect x="1" y="1" width="16" height="11" fill="#fff"/>
  <g fill="#c8102e"><rect x="1" y="1" width="16" height="1"/><rect x="1" y="3" width="16" height="1"/><rect x="1" y="5" width="16" height="1"/><rect x="1" y="7" width="16" height="1"/><rect x="1" y="9" width="16" height="1"/><rect x="1" y="11" width="16" height="1"/></g>
  <rect x="1" y="1" width="8" height="6" fill="#1d3f7c"/>
  <g fill="#dfe6f2"><rect x="2" y="2" width="1" height="1"/><rect x="4" y="2" width="1" height="1"/><rect x="6" y="2" width="1" height="1"/><rect x="3" y="3" width="1" height="1"/><rect x="5" y="3" width="1" height="1"/><rect x="7" y="3" width="1" height="1"/><rect x="2" y="4" width="1" height="1"/><rect x="4" y="4" width="1" height="1"/><rect x="6" y="4" width="1" height="1"/><rect x="3" y="5" width="1" height="1"/><rect x="5" y="5" width="1" height="1"/><rect x="7" y="5" width="1" height="1"/><rect x="1" y="2" width="1" height="1" opacity="0.5"/><rect x="1" y="4" width="1" height="1" opacity="0.5"/><rect x="8" y="3" width="1" height="1" opacity="0.5"/><rect x="8" y="5" width="1" height="1" opacity="0.5"/></g>
  <rect x="23.5" y="1.5" width="15" height="10" fill="#fff" stroke="#8a8a8a" stroke-width="1"/><circle cx="31.2" cy="6.4" r="4" fill="#f00" shape-rendering="auto"/>
 </svg>
 <div style="position:absolute;left:19.3px;top:1px;color:#fff;line-height:17px;font-size:12px;will-change:transform;transform:scaleX(0.6);-webkit-text-stroke:0.4px #fff">/</div>
 <div style="position:absolute;left:43px;top:1px;color:#fff;line-height:16px;font-size:12px;letter-spacing:0;will-change:transform">USD/JPY</div>
 <svg class="chev" style="left:115px" viewBox="0 0 9 6"><polyline points="0.5,0.8 4.5,4.8 8.5,0.8" fill="none" stroke="#555" stroke-width="1.1"/></svg>
</div>
<div class="cb" style="left:134px;width:70px;border-color:#d4d4d4"><div class="tx" style="letter-spacing:0"><span style="display:inline-block;width:5px;transform:scaleX(0.62);transform-origin:0 0">4</span>時間足</div>
 <svg class="chev" style="left:58px" viewBox="0 0 9 6"><polyline points="0.5,0.8 4.5,4.8 8.5,0.8" fill="none" stroke="#555" stroke-width="1.1"/></svg></div>
<div class="cb" style="left:210px;width:94px;border-color:#d4d4d4"><div class="tx" style="letter-spacing:-1.6px;left:3px">ローソク</div>
 <svg class="chev" style="left:82px" viewBox="0 0 9 6"><polyline points="0.5,0.8 4.5,4.8 8.5,0.8" fill="none" stroke="#555" stroke-width="1.1"/></svg></div>
<div class="cb" style="left:310px;width:62px;border-color:#7a7a7a">
 <div style="position:absolute;left:1px;top:1px;width:43px;height:16px;background:#000"></div>
 <svg style="position:absolute;left:12px;top:3px" width="8" height="13" viewBox="0 0 8 13"><line x1="4" y1="0" x2="4" y2="12" stroke="#fff" stroke-width="1"/><rect x="2" y="3" width="4" height="7" fill="#000" stroke="#fff" stroke-width="1"/></svg>
 <svg class="chev" style="left:50px" viewBox="0 0 9 6"><polyline points="0.5,0.8 4.5,4.8 8.5,0.8" fill="none" stroke="#555" stroke-width="1.1"/></svg>
</div>
<div class="cb" style="left:379px;width:156px;top:4px;height:15px;border-color:#d4d4d4;border-radius:4px"><div class="tx" style="left:0.5px;top:-1px;letter-spacing:0.4px">四角形</div></div>
<div class="cb" style="left:547px;width:60px;top:4px;height:18px;border-color:#d0d0d0;border-radius:4px"><div class="tx" style="left:13.5px;top:1px">設定...</div></div>
</div>
<div id="panel"><div class="t">テクニカル指標リスト</div><div class="btn"><i></i></div></div>
</body></html>
